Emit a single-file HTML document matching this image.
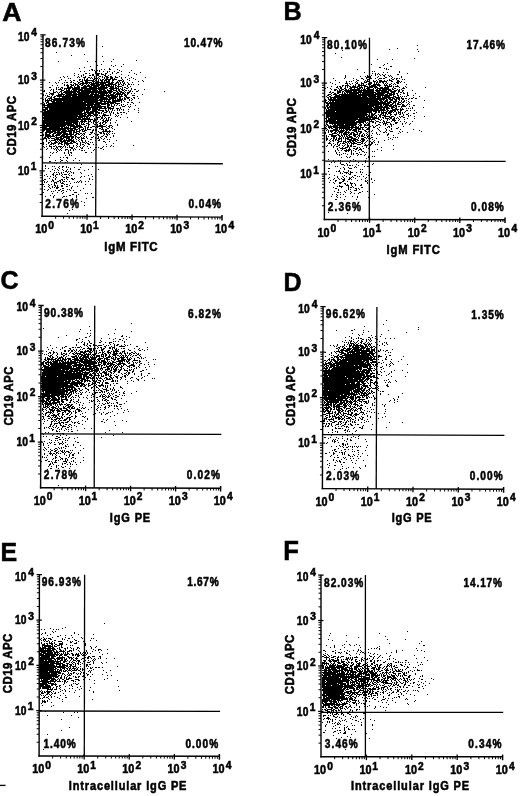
<!DOCTYPE html>
<html><head><meta charset="utf-8"><style>
html,body{margin:0;padding:0;background:#fff;}
svg{display:block;will-change:transform;}
text{font-family:"Liberation Sans",sans-serif;font-weight:bold;fill:#000;stroke:#000;stroke-width:0.55px;}
line{stroke:#000;}
</style></head><body>
<svg width="520" height="796" viewBox="0 0 520 796">
<rect width="520" height="796" fill="#fff"/>
<path d="M407 631.5h1m-78 2h1m48 0h1m-51 2h1m16 0h1m38 1h1m-28 1h1m-31 2h1m58 0h1m17 0h1m-74 1h1m13 1h1m74 0h1m-33 2h1m29 0h1m-76 1h1m4 0h1m6 0h1m-31 1h1m7 0h1m7 0h1m7 0h1m3 0h1m4 0h1m63 0h2m-91 1h1m44 0h1m-50 1h1m3 0h1m9 0h1m15 0h1m4 0h1m11 0h1m-7 1h1m2 0h1m1 0h1m2 0h1m36 0h1m-77 1h1m17 0h1m9 0h1m10 0h1m-57 1h2m10 0h1m11 0h1m5 0h1m4 0h1m1 0h1m35 0h1m5 0h1m14 0h1m3 0h1m-97 1h1m6 0h2m10 0h1m4 0h1m7 0h1m3 0h1m34 0h1m27 0h1m-90 1h1m2 0h2m1 0h1m4 0h1m13 0h1m1 0h2m4 0h1m22 0h1m4 0h1m-72 1h1m9 0h1m4 0h1m5 0h2m8 0h1m7 0h1m5 0h1m3 0h1m11 0h1m-64 1h1m3 0h1m21 0h1m9 0h1m5 0h1m7 0h1m3 0h1m-54 1h2m2 0h1m2 0h1m18 0h1m18 0h1m10 0h1m9 0h1m23 0h1m-93 1h2m2 0h1m2 0h1m3 0h3m2 0h1m2 0h3m12 0h1m13 0h2m2 0h1m4 0h1m9 0h1m-66 1h5m2 0h3m3 0h2m1 0h1m5 0h1m1 0h1m1 0h1m1 0h1m1 0h4m4 0h1m10 0h1m4 0h1m3 0h1m41 0h1m-99 1h1m2 0h1m5 0h1m1 0h1m8 0h3m1 0h1m1 0h1m8 0h1m2 0h1m2 0h1m1 0h1m3 0h1m3 0h1m11 0h1m3 0h1m22 0h1m-91 1h1m2 0h1m1 0h3m3 0h2m2 0h1m1 0h1m1 0h3m1 0h1m1 0h2m2 0h2m4 0h2m3 0h2m4 0h1m14 0h1m1 0h1m5 0h1m-73 1h3m2 0h3m1 0h7m2 0h1m5 0h1m3 0h1m3 0h1m3 0h1m1 0h1m1 0h1m6 0h2m2 0h1m2 0h2m1 0h1m24 0h2m20 0h1m-104 1h2m3 0h3m1 0h4m1 0h1m2 0h4m3 0h1m6 0h3m3 0h1m8 0h2m2 0h1m2 0h1m7 0h1m7 0h1m4 0h1m-77 1h3m1 0h1m3 0h1m3 0h1m2 0h3m1 0h3m2 0h1m1 0h2m1 0h2m3 0h1m2 0h1m5 0h1m1 0h1m5 0h2m8 0h2m10 0h2m1 0h1m1 0h1m1 0h1m2 0h1m2 0h1m8 0h1m3 0h1m-100 1h7m2 0h1m1 0h2m3 0h3m2 0h2m2 0h1m3 0h1m1 0h1m3 0h4m4 0h2m4 0h2m1 0h1m13 0h1m1 0h2m-70 1h1m1 0h1m1 0h1m1 0h1m1 0h1m1 0h2m1 0h1m1 0h1m4 0h5m1 0h1m3 0h2m2 0h1m1 0h2m3 0h3m1 0h1m3 0h2m3 0h2m2 0h2m5 0h1m1 0h1m1 0h1m8 0h2m3 0h1m3 0h1m10 0h1m1 0h1m-101 1h2m2 0h1m2 0h7m1 0h5m1 0h5m2 0h3m3 0h4m2 0h2m1 0h3m2 0h1m3 0h2m1 0h1m1 0h2m6 0h2m1 0h2m2 0h1m1 0h1m4 0h2m15 0h1m-97 1h2m1 0h1m1 0h1m1 0h6m1 0h9m2 0h1m2 0h2m2 0h8m2 0h1m2 0h3m1 0h1m3 0h1m1 0h1m1 0h1m4 0h1m1 0h2m1 0h1m1 0h1m1 0h2m9 0h1m2 0h1m-86 1h2m1 0h19m1 0h5m1 0h1m2 0h4m4 0h1m1 0h1m2 0h1m4 0h4m2 0h3m2 0h1m2 0h1m4 0h1m3 0h3m9 0h2m4 0h1m1 0h1m-94 1h2m1 0h5m1 0h5m1 0h3m1 0h6m2 0h4m1 0h3m1 0h1m1 0h1m1 0h2m1 0h4m2 0h4m1 0h1m1 0h2m2 0h1m2 0h1m1 0h1m4 0h1m1 0h1m11 0h1m-83 1h3m1 0h9m2 0h1m1 0h7m1 0h1m1 0h2m1 0h3m1 0h2m1 0h1m2 0h2m1 0h2m4 0h2m1 0h4m4 0h1m1 0h2m2 0h1m1 0h1m2 0h1m2 0h1m1 0h1m1 0h1m2 0h1m11 0h1m-96 1h9m1 0h11m1 0h9m3 0h2m1 0h2m1 0h1m1 0h2m1 0h3m1 0h2m1 0h1m3 0h1m2 0h2m2 0h4m3 0h1m2 0h2m1 0h2m2 0h1m7 0h1m3 0h1m2 0h3m1 0h1m-98 1h3m1 0h4m1 0h7m1 0h3m1 0h1m1 0h2m1 0h6m1 0h6m1 0h9m1 0h1m2 0h1m1 0h2m5 0h1m3 0h1m2 0h2m1 0h6m6 0h1m3 0h1m-91 1h16m1 0h1m1 0h4m2 0h2m1 0h7m2 0h3m1 0h2m1 0h2m1 0h5m1 0h2m5 0h2m1 0h3m1 0h2m1 0h2m8 0h1m1 0h1m1 0h1m1 0h1m-86 1h13m1 0h8m1 0h2m1 0h2m1 0h2m1 0h1m2 0h9m1 0h1m1 0h7m3 0h1m1 0h1m1 0h1m1 0h1m1 0h1m4 0h3m2 0h3m2 0h2m1 0h1m8 0h1m-94 1h1m1 0h32m1 0h5m1 0h1m1 0h5m1 0h5m1 0h1m1 0h1m1 0h1m1 0h1m2 0h1m2 0h1m1 0h1m3 0h1m2 0h1m4 0h2m10 0h1m-94 1h9m1 0h13m1 0h1m1 0h1m1 0h4m1 0h5m1 0h1m3 0h5m1 0h9m1 0h1m1 0h3m1 0h1m3 0h4m1 0h1m1 0h1m1 0h1m1 0h1m1 0h3m2 0h2m11 0h1m-100 1h4m1 0h38m3 0h1m1 0h3m1 0h3m3 0h1m1 0h2m2 0h4m1 0h3m2 0h1m2 0h1m1 0h1m5 0h2m10 0h1m1 0h1m-101 1h17m1 0h19m2 0h1m1 0h7m1 0h2m1 0h3m1 0h2m2 0h1m2 0h1m1 0h5m1 0h3m7 0h1m4 0h2m-88 1h19m1 0h5m1 0h2m1 0h3m1 0h2m1 0h7m1 0h4m2 0h3m2 0h2m4 0h3m1 0h2m2 0h6m3 0h1m2 0h2m1 0h2m6 0h1m4 0h1m11 0h1m-110 1h19m1 0h7m1 0h2m2 0h3m1 0h7m1 0h9m2 0h3m1 0h2m1 0h1m2 0h1m2 0h1m1 0h2m1 0h1m1 0h1m1 0h1m1 0h1m2 0h1m2 0h1m1 0h1m1 0h1m1 0h1m7 0h2m10 0h1m-112 1h3m1 0h24m1 0h2m2 0h4m1 0h5m2 0h2m2 0h1m1 0h7m1 0h1m1 0h6m2 0h1m2 0h2m2 0h1m4 0h3m1 0h1m2 0h1m-89 1h4m1 0h22m1 0h1m1 0h5m1 0h8m1 0h2m2 0h1m1 0h1m2 0h2m1 0h2m1 0h2m1 0h2m4 0h1m4 0h1m2 0h1m5 0h2m1 0h1m9 0h1m6 0h1m-104 1h3m1 0h17m3 0h3m1 0h5m1 0h2m1 0h1m1 0h1m1 0h5m2 0h1m1 0h1m1 0h2m1 0h2m2 0h7m4 0h1m1 0h1m1 0h2m2 0h1m2 0h1m1 0h1m1 0h1m5 0h2m6 0h1m-100 1h15m1 0h8m1 0h2m1 0h1m1 0h1m1 0h1m1 0h4m1 0h5m1 0h1m1 0h1m2 0h2m2 0h1m6 0h1m1 0h7m2 0h1m1 0h1m4 0h2m2 0h1m4 0h1m2 0h1m9 0h1m5 0h1m-108 1h17m1 0h6m1 0h2m2 0h5m2 0h2m1 0h3m1 0h6m2 0h3m1 0h1m1 0h1m4 0h1m6 0h1m1 0h1m1 0h2m1 0h1m5 0h2m11 0h1m1 0h1m-98 1h3m1 0h5m1 0h11m1 0h11m1 0h11m1 0h2m1 0h2m3 0h1m3 0h1m1 0h2m4 0h1m1 0h1m2 0h2m2 0h2m5 0h1m3 0h2m8 0h1m6 0h1m-104 1h31m1 0h2m1 0h7m1 0h4m1 0h1m3 0h1m1 0h1m1 0h1m5 0h3m2 0h1m2 0h1m6 0h2m2 0h1m8 0h1m9 0h1m-101 1h21m1 0h10m2 0h5m1 0h2m9 0h1m2 0h3m2 0h4m2 0h1m7 0h1m1 0h1m2 0h1m2 0h1m2 0h2m10 0h2m-97 1h19m1 0h3m1 0h1m1 0h6m1 0h2m1 0h1m1 0h6m1 0h3m1 0h4m2 0h2m1 0h1m1 0h1m3 0h1m2 0h2m31 0h1m-102 1h23m1 0h3m4 0h2m1 0h3m1 0h1m2 0h1m3 0h1m1 0h7m1 0h2m2 0h1m1 0h1m1 0h1m2 0h1m1 0h1m4 0h1m1 0h1m1 0h1m1 0h1m-80 1h22m1 0h1m4 0h2m1 0h3m3 0h5m1 0h1m1 0h2m1 0h1m1 0h1m9 0h1m3 0h1m4 0h1m5 0h2m6 0h1m2 0h1m4 0h1m1 0h1m1 0h1m-95 1h21m2 0h6m2 0h1m3 0h2m3 0h5m1 0h2m1 0h2m3 0h2m4 0h1m1 0h1m7 0h1m3 0h2m4 0h2m2 0h1m10 0h1m-96 1h20m1 0h5m1 0h9m1 0h1m1 0h6m1 0h2m1 0h1m2 0h2m3 0h1m1 0h2m5 0h1m2 0h2m2 0h1m3 0h1m-78 1h22m2 0h4m1 0h3m1 0h2m4 0h1m1 0h2m2 0h2m1 0h3m1 0h3m5 0h1m3 0h1m3 0h1m9 0h1m4 0h1m-85 1h3m1 0h19m4 0h1m1 0h2m1 0h2m1 0h5m1 0h2m1 0h1m1 0h1m1 0h2m5 0h1m2 0h1m8 0h1m8 0h1m2 0h1m8 0h1m16 0h1m-106 1h18m1 0h3m1 0h4m1 0h2m4 0h1m2 0h1m3 0h2m1 0h1m4 0h1m1 0h3m1 0h1m10 0h2m13 0h1m10 0h1m-92 1h4m1 0h17m4 0h2m1 0h2m2 0h1m1 0h1m9 0h2m1 0h1m11 0h1m14 0h2m-77 1h2m1 0h19m1 0h1m1 0h1m1 0h2m2 0h2m6 0h1m3 0h1m6 0h1m3 0h1m5 0h1m10 0h1m1 0h1m2 0h1m-77 1h25m1 0h4m2 0h1m8 0h2m1 0h1m1 0h1m2 0h1m12 0h1m2 0h1m3 0h1m13 0h1m-85 1h8m1 0h9m1 0h7m1 0h4m1 0h1m10 0h1m8 0h2m6 0h3m20 0h1m1 0h1m-86 1h10m1 0h3m1 0h6m4 0h1m1 0h1m2 0h5m1 0h1m4 0h1m2 0h1m14 0h1m5 0h1m4 0h1m22 0h1m-94 1h6m1 0h8m1 0h1m1 0h1m5 0h3m1 0h1m4 0h1m2 0h1m7 0h1m2 0h1m8 0h1m35 0h1m-93 1h1m1 0h3m3 0h2m1 0h4m1 0h1m2 0h1m2 0h1m1 0h1m2 0h1m2 0h4m3 0h1m22 0h1m3 0h1m8 0h1m-74 1h2m1 0h10m1 0h2m1 0h1m2 0h6m5 0h2m1 0h1m1 0h1m2 0h1m1 0h2m42 0h1m-85 1h23m3 0h1m6 0h1m7 0h1m23 0h1m19 0h1m-86 1h7m1 0h2m1 0h1m1 0h4m2 0h2m6 0h1m5 0h1m12 0h1m-48 1h2m1 0h1m2 0h2m3 0h3m2 0h1m1 0h3m2 0h2m2 0h2m8 0h1m4 0h1m2 0h1m7 0h1m4 0h1m-59 1h2m1 0h1m2 0h5m1 0h4m1 0h2m1 0h1m3 0h1m1 0h1m2 0h1m2 0h1m4 0h1m5 0h1m9 0h1m7 0h1m2 0h1m-61 1h1m4 0h2m2 0h3m2 0h3m1 0h1m2 0h1m26 0h1m-53 1h1m1 0h2m1 0h5m1 0h2m3 0h1m1 0h1m4 0h1m4 0h1m5 0h2m1 0h1m-35 1h3m3 0h3m1 0h2m1 0h2m1 0h1m8 0h1m1 0h1m3 0h1m28 0h1m-59 1h3m1 0h1m1 0h1m2 0h1m4 0h1m7 0h1m2 0h1m12 0h1m-44 1h2m1 0h1m1 0h1m1 0h2m1 0h5m3 0h1m1 0h1m-16 1h1m2 0h1m1 0h1m3 0h2m3 0h2m4 0h2m14 0h2m-33 1h1m1 0h3m1 0h1m2 0h1m1 0h1m5 0h2m-28 1h3m2 0h1m1 0h1m2 0h1m9 0h1m12 0h1m-34 1h1m9 0h2m2 0h1m7 0h1m5 0h1m3 0h1m1 0h1m-31 1h2m6 0h2m2 0h1m13 0h1m1 0h1m-32 1h1m1 0h4m11 0h1m8 0h1m12 0h1m-41 1h1m4 0h1m1 0h1m1 0h1m2 0h1m9 0h1m6 0h1m7 0h1m9 0h1m-39 1h1m6 0h1m2 0h1m1 0h1m10 0h2m17 0h1m-48 1h1m1 0h1m2 0h1m7 0h1m5 0h1m11 0h1m-37 1h1m4 0h1m1 0h1m5 0h1m2 0h1m22 0h1m-30 1h1m1 0h1m2 0h1m1 0h1m11 0h1m-26 1h1m10 0h2m1 0h1m20 0h1m3 0h1m6 0h1m-48 1h1m9 0h1m8 0h1m7 0h1m1 0h1m6 0h1m10 0h1m-48 1h1m7 0h1m13 0h1m-9 1h1m4 0h1m1 0h1m-15 1h1m2 0h1m8 0h1m3 0h1m-5 1h1m3 0h2m2 0h1m1 0h1m17 0h1m-48 1h1m11 0h1m1 0h2m3 0h1m-11 1h2m9 0h1m9 0h1m-33 1h2m8 0h1m6 0h1m3 0h2m-8 1h1m4 0h3m20 0h1m-16 1h1m13 0h1m-33 1h1m13 1h1m-7 1h1m8 0h1m-15 1h1m32 0h1m-25 11h1" stroke="#000" stroke-width="1" fill="none" shape-rendering="crispEdges"/>
<path d="M104 623.5h1m-40 4h1m-16 1h1m11 0h1m-22 1h1m2 0h1m8 0h1m2 0h1m1 0h1m-7 2h1m2 0h1m-11 1h1m7 0h1m20 0h1m-33 1h1m2 0h1m28 0h1m-34 1h1m8 0h1m27 0h1m14 0h1m-47 1h1m12 0h1m4 0h1m5 0h1m-15 1h2m-16 1h1m8 0h1m12 0h1m6 0h1m8 0h1m-41 1h1m2 0h1m1 0h1m1 0h3m11 0h1m5 0h2m12 0h1m8 0h1m1 0h1m-54 1h1m2 0h3m4 0h2m10 0h1m1 0h1m9 0h1m-34 1h1m1 0h1m1 0h1m2 0h1m5 0h2m11 0h1m7 0h2m13 0h1m5 0h1m-53 1h1m1 0h2m1 0h1m2 0h1m5 0h4m8 0h1m1 0h1m5 0h1m4 0h1m-43 1h1m7 0h1m1 0h1m2 0h1m7 0h1m7 0h2m4 0h1m-36 1h1m2 0h1m1 0h2m1 0h4m1 0h1m4 0h4m11 0h3m8 0h1m-44 1h3m2 0h1m3 0h2m2 0h2m2 0h4m3 0h1m18 0h1m-44 1h9m1 0h1m1 0h1m2 0h3m1 0h1m8 0h1m1 0h1m12 0h1m-44 1h1m1 0h9m1 0h3m4 0h1m22 0h1m5 0h1m5 0h1m-57 1h1m1 0h4m2 0h3m1 0h2m5 0h1m1 0h2m4 0h1m2 0h1m6 0h2m5 0h1m6 0h1m3 0h1m-56 1h15m2 0h1m1 0h1m4 0h2m1 0h1m3 0h1m1 0h1m3 0h1m1 0h1m11 0h1m-52 1h4m1 0h1m1 0h4m1 0h4m3 0h2m4 0h1m7 0h1m2 0h1m16 0h1m4 0h3m6 0h1m-68 1h14m2 0h1m3 0h2m1 0h1m1 0h1m3 0h3m1 0h1m4 0h1m7 0h1m8 0h1m2 0h1m2 0h1m-62 1h12m1 0h2m1 0h2m1 0h6m2 0h3m1 0h1m7 0h1m6 0h1m5 0h1m-52 1h5m1 0h6m1 0h5m4 0h1m1 0h1m1 0h1m12 0h1m2 0h1m1 0h1m1 0h1m11 0h1m-60 1h2m1 0h10m1 0h2m1 0h1m1 0h1m1 0h1m1 0h1m1 0h1m1 0h2m2 0h2m3 0h1m1 0h1m1 0h1m1 0h1m2 0h1m1 0h1m2 0h1m16 0h1m-68 1h4m1 0h14m1 0h3m1 0h4m1 0h1m2 0h2m1 0h4m2 0h1m1 0h1m2 0h1m15 0h1m-63 1h15m1 0h2m1 0h3m2 0h3m5 0h2m1 0h1m1 0h3m2 0h2m1 0h1m-45 1h9m1 0h5m3 0h1m2 0h1m4 0h2m8 0h2m5 0h1m3 0h2m2 0h3m4 0h2m-61 1h10m1 0h3m3 0h8m3 0h4m1 0h1m2 0h1m8 0h1m1 0h2m1 0h1m9 0h1m-61 1h15m1 0h7m1 0h1m1 0h1m2 0h1m1 0h2m2 0h3m4 0h3m2 0h2m2 0h1m2 0h1m3 0h1m1 0h1m5 0h1m7 0h1m-75 1h12m2 0h2m1 0h3m1 0h2m1 0h3m4 0h1m1 0h1m2 0h1m4 0h1m11 0h1m1 0h1m-56 1h4m1 0h2m1 0h6m1 0h1m1 0h1m2 0h3m1 0h2m1 0h1m2 0h1m2 0h3m1 0h3m4 0h2m2 0h1m3 0h1m1 0h1m-55 1h21m2 0h4m2 0h1m2 0h1m3 0h1m1 0h2m3 0h2m5 0h1m2 0h1m-54 1h15m1 0h3m1 0h1m2 0h2m4 0h1m1 0h1m1 0h2m3 0h1m1 0h1m3 0h1m2 0h3m3 0h1m7 0h1m4 0h1m-67 1h9m1 0h13m3 0h3m3 0h1m2 0h1m1 0h2m3 0h1m10 0h1m8 0h1m-63 1h14m2 0h5m1 0h3m2 0h1m1 0h3m1 0h1m1 0h1m2 0h1m1 0h1m5 0h2m1 0h2m-51 1h15m1 0h1m2 0h2m1 0h6m2 0h2m3 0h1m10 0h2m-48 1h25m1 0h2m1 0h2m1 0h4m4 0h1m3 0h1m1 0h1m1 0h1m28 0h1m-78 1h16m1 0h9m2 0h1m1 0h1m2 0h1m2 0h1m1 0h1m11 0h1m1 0h1m2 0h2m1 0h2m2 0h1m-63 1h14m1 0h2m3 0h1m1 0h3m1 0h2m1 0h2m1 0h4m1 0h1m2 0h1m1 0h1m4 0h1m2 0h2m-52 1h16m1 0h2m1 0h2m2 0h1m2 0h1m1 0h1m1 0h1m2 0h1m1 0h2m2 0h1m1 0h2m9 0h1m-54 1h14m1 0h1m1 0h1m1 0h3m1 0h1m1 0h2m1 0h3m1 0h5m1 0h2m2 0h1m6 0h1m1 0h1m11 0h1m6 0h1m-71 1h8m1 0h11m1 0h1m1 0h3m1 0h1m3 0h1m8 0h1m7 0h1m1 0h1m-51 1h21m7 0h1m4 0h2m6 0h1m1 0h1m6 0h1m15 0h1m-67 1h10m1 0h6m1 0h3m1 0h2m4 0h1m1 0h2m1 0h1m2 0h1m1 0h1m1 0h1m2 0h1m2 0h1m-47 1h18m4 0h1m1 0h1m2 0h1m1 0h1m1 0h1m5 0h1m2 0h1m6 0h2m3 0h1m9 0h1m-63 1h17m1 0h2m1 0h1m3 0h1m2 0h3m12 0h1m3 0h1m19 0h1m3 0h1m-72 1h19m2 0h1m2 0h1m2 0h1m5 0h1m1 0h1m2 0h2m2 0h3m5 0h1m-51 1h12m1 0h1m1 0h3m2 0h2m2 0h1m1 0h1m2 0h1m5 0h2m1 0h1m6 0h1m-46 1h15m3 0h1m1 0h2m2 0h1m1 0h1m1 0h4m12 0h1m22 0h1m-67 1h1m1 0h7m1 0h5m1 0h1m1 0h1m2 0h2m2 0h3m6 0h4m4 0h1m5 0h1m14 0h1m-64 1h7m2 0h4m1 0h2m2 0h1m4 0h2m5 0h3m4 0h2m14 0h1m22 0h1m-78 1h16m1 0h4m1 0h1m1 0h2m1 0h1m5 0h1m1 0h1m-34 1h7m1 0h1m3 0h1m9 0h1m1 0h1m-27 1h7m1 0h6m1 0h1m8 0h1m8 0h1m1 0h1m2 0h1m15 0h1m-55 1h8m3 0h6m6 0h1m7 0h1m4 0h2m-38 1h4m1 0h5m1 0h2m2 0h1m3 0h2m8 0h1m1 0h1m-32 1h11m5 0h2m1 0h1m5 0h1m6 0h1m7 0h1m37 0h1m-79 1h1m1 0h9m2 0h1m2 0h1m3 0h1m16 0h1m12 0h1m-51 1h1m1 0h7m1 0h1m1 0h1m3 0h1m2 0h1m9 0h1m2 0h1m8 0h1m-35 1h6m1 0h3m3 0h1m3 0h1m14 0h1m-39 1h1m5 0h1m3 0h1m10 0h1m2 0h1m9 0h1m13 0h1m29 0h1m-80 1h1m1 0h1m1 0h1m1 0h5m2 0h1m6 0h1m4 0h1m3 0h1m23 0h1m-53 1h2m1 0h2m1 0h3m1 0h1m3 0h1m2 0h1m15 0h1m18 0h1m-53 1h3m3 0h2m3 0h1m1 0h2m7 0h1m-24 1h1m5 0h2m1 0h1m1 0h1m-11 1h1m1 0h1m1 0h1m4 0h1m9 0h1m4 0h1m-22 1h1m3 0h1m2 0h1m2 0h1m24 0h1m-37 1h2m1 0h2m3 0h1m5 0h1m7 0h2m-27 1h1m1 0h1m5 0h1m10 0h1m-11 1h1m12 0h1m29 0h1m-51 1h1m1 0h1m2 0h1m-6 1h4m1 0h1m14 0h1m-21 1h1m1 0h2m5 0h1m-11 1h1m0 2h1m10 0h1m-3 1h1m-7 5h1m17 1h1m10 0h1m2 0h1m-31 3h1m23 0h1m6 2h1m-18 2h1m7 8h1m-9 3h1m-15 4h1m-5 15h1" stroke="#000" stroke-width="1" fill="none" shape-rendering="crispEdges"/>
<path d="M386 320.5h1m-4 4h1m-20 2h1m53 1h1m-65 2h1m63 0h1m-83 1h1m14 0h2m10 0h1m24 0h1m-21 1h1m-6 1h1m42 0h1m-55 1h1m5 1h1m3 0h1m18 0h1m-23 1h1m11 0h1m-23 1h1m25 0h1m4 0h1m-36 1h1m5 0h1m6 0h1m9 0h2m2 0h1m-22 1h1m4 0h1m1 0h1m1 0h2m8 0h1m4 0h1m9 0h1m4 0h1m3 0h1m-42 1h1m8 0h2m2 0h1m1 0h1m1 0h1m5 0h2m-33 1h1m3 0h1m1 0h1m6 0h1m2 0h1m4 0h1m2 0h1m1 0h1m-30 1h1m7 0h2m1 0h1m3 0h1m3 0h2m3 0h1m3 0h1m8 0h1m-36 1h1m1 0h1m1 0h1m1 0h1m3 0h1m1 0h1m3 0h2m3 0h1m2 0h1m6 0h1m8 0h1m1 0h1m-39 1h1m1 0h4m1 0h1m2 0h1m2 0h1m1 0h2m2 0h1m1 0h1m1 0h1m10 0h1m3 0h1m-50 1h1m6 0h1m2 0h1m1 0h1m1 0h1m1 0h2m1 0h2m2 0h1m3 0h3m1 0h3m6 0h1m4 0h1m4 0h1m-58 1h1m2 0h1m3 0h1m6 0h1m4 0h3m1 0h10m2 0h2m1 0h1m1 0h1m8 0h1m4 0h1m-51 1h1m1 0h1m3 0h1m1 0h2m2 0h1m2 0h2m1 0h2m1 0h4m1 0h4m1 0h3m1 0h1m1 0h1m1 0h2m-37 1h2m2 0h1m1 0h1m4 0h1m2 0h8m1 0h5m1 0h1m2 0h3m2 0h2m-41 1h2m1 0h1m3 0h3m1 0h5m1 0h6m1 0h5m1 0h4m1 0h1m2 0h1m1 0h1m-39 1h1m2 0h3m2 0h5m1 0h10m1 0h1m2 0h4m1 0h4m5 0h1m11 0h1m-55 1h1m1 0h10m1 0h2m1 0h16m1 0h4m3 0h1m1 0h1m2 0h1m2 0h2m-54 1h1m1 0h4m1 0h2m2 0h3m1 0h11m1 0h12m1 0h1m1 0h1m1 0h2m5 0h1m-61 1h1m5 0h1m3 0h1m3 0h5m3 0h8m1 0h11m2 0h4m2 0h1m12 0h1m1 0h1m-60 1h1m4 0h1m4 0h5m1 0h2m1 0h1m1 0h23m1 0h1m-48 1h1m8 0h1m1 0h2m2 0h16m1 0h9m1 0h3m11 0h1m-55 1h1m1 0h1m3 0h2m3 0h29m1 0h2m2 0h1m1 0h2m9 0h2m-66 1h1m8 0h4m1 0h4m2 0h24m1 0h2m1 0h3m2 0h4m4 0h1m16 0h1m-73 1h2m1 0h1m1 0h3m1 0h33m1 0h1m3 0h1m7 0h1m-58 1h1m3 0h1m3 0h2m2 0h1m1 0h1m1 0h27m1 0h2m1 0h1m8 0h1m-58 1h2m1 0h4m2 0h4m1 0h35m1 0h1m6 0h2m4 0h1m9 0h1m-78 1h2m1 0h1m1 0h1m1 0h1m1 0h3m1 0h2m1 0h22m1 0h6m1 0h3m9 0h1m-60 1h1m2 0h1m3 0h2m2 0h4m1 0h8m1 0h17m1 0h3m3 0h4m14 0h1m7 0h1m-74 1h1m2 0h3m1 0h1m2 0h29m1 0h4m1 0h6m2 0h2m3 0h1m7 0h1m-69 1h1m1 0h7m1 0h33m1 0h3m1 0h1m5 0h1m3 0h1m8 0h1m1 0h1m-70 1h4m2 0h6m1 0h35m1 0h2m1 0h1m1 0h1m8 0h1m2 0h1m3 0h1m13 0h1m-84 1h1m1 0h3m1 0h9m1 0h14m1 0h3m1 0h12m2 0h1m1 0h1m10 0h1m3 0h1m-68 1h1m1 0h2m1 0h1m1 0h5m1 0h32m1 0h3m2 0h1m2 0h1m4 0h1m6 0h1m-66 1h1m1 0h2m1 0h3m1 0h29m1 0h5m1 0h2m9 0h2m-59 1h5m1 0h1m2 0h30m5 0h6m1 0h1m8 0h1m-59 1h2m1 0h2m1 0h27m1 0h3m1 0h4m1 0h3m4 0h1m5 0h1m-59 1h33m1 0h2m1 0h1m1 0h10m1 0h2m19 0h1m7 0h1m-80 1h42m1 0h4m1 0h1m5 0h1m2 0h1m3 0h1m6 0h1m-68 1h36m1 0h9m2 0h1m4 0h1m3 0h1m9 0h1m15 0h1m-84 1h40m1 0h4m1 0h5m2 0h1m11 0h1m-67 1h4m1 0h37m1 0h2m2 0h2m6 0h2m8 0h1m-66 1h42m1 0h5m2 0h2m6 0h1m4 0h1m-63 1h4m1 0h16m1 0h16m1 0h12m16 0h1m13 0h1m-83 1h43m1 0h2m1 0h2m1 0h3m1 0h1m-55 1h24m1 0h5m1 0h7m1 0h3m1 0h4m7 0h2m-56 1h41m1 0h4m1 0h2m16 0h1m-66 1h35m1 0h4m1 0h2m1 0h1m2 0h3m11 0h1m1 0h1m8 0h1m-73 1h42m1 0h1m3 0h1m4 0h2m12 0h1m6 0h1m-74 1h32m2 0h3m1 0h3m3 0h1m2 0h3m1 0h2m1 0h1m7 0h1m2 0h1m1 0h1m-67 1h26m1 0h4m1 0h4m2 0h4m2 0h1m1 0h1m2 0h2m2 0h1m-54 1h21m1 0h16m1 0h2m5 0h1m3 0h1m1 0h1m10 0h1m-65 1h37m2 0h6m1 0h2m4 0h3m8 0h2m-64 1h36m1 0h1m1 0h5m2 0h1m7 0h1m8 0h2m-66 1h37m1 0h2m2 0h1m1 0h2m2 0h1m3 0h1m1 0h1m-55 1h33m1 0h6m1 0h2m3 0h2m1 0h5m1 0h1m-55 1h30m1 0h7m1 0h2m3 0h2m7 0h1m-55 1h5m1 0h23m1 0h7m1 0h4m1 0h2m1 0h1m1 0h1m6 0h1m-56 1h27m1 0h1m1 0h8m1 0h2m2 0h1m1 0h1m2 0h2m7 0h1m1 0h2m-61 1h27m1 0h2m1 0h5m1 0h3m1 0h2m1 0h1m1 0h1m1 0h1m1 0h2m-52 1h32m1 0h1m1 0h2m1 0h6m1 0h3m1 0h1m7 0h1m21 0h1m-80 1h20m1 0h14m1 0h1m1 0h1m1 0h2m1 0h3m7 0h1m3 0h1m7 0h1m-66 1h17m1 0h6m1 0h2m1 0h1m1 0h3m4 0h8m5 0h1m-50 1h3m1 0h21m1 0h4m1 0h1m1 0h3m2 0h1m1 0h1m1 0h1m1 0h1m4 0h1m24 0h1m-76 1h23m1 0h7m1 0h6m1 0h2m2 0h2m1 0h1m1 0h1m2 0h1m23 0h1m-76 1h13m1 0h11m2 0h4m1 0h2m2 0h1m6 0h2m6 0h2m17 0h1m-70 1h19m2 0h2m2 0h1m1 0h3m1 0h1m2 0h7m9 0h1m19 0h1m2 0h1m-75 1h1m1 0h3m1 0h19m2 0h1m1 0h1m1 0h2m1 0h3m2 0h1m5 0h1m21 0h1m3 0h1m-71 1h1m1 0h13m1 0h2m1 0h2m1 0h6m1 0h4m2 0h3m1 0h4m1 0h1m7 0h1m12 0h1m7 0h1m-74 1h2m1 0h12m1 0h5m1 0h2m1 0h4m2 0h1m1 0h1m3 0h1m3 0h2m1 0h1m5 0h1m19 0h1m-71 1h1m1 0h3m1 0h2m1 0h1m1 0h2m2 0h4m1 0h3m1 0h1m1 0h2m2 0h2m3 0h1m4 0h1m1 0h2m4 0h1m-50 1h1m1 0h7m1 0h3m1 0h5m1 0h3m1 0h1m1 0h1m1 0h1m1 0h5m3 0h1m10 0h1m9 0h1m2 0h1m-63 1h6m1 0h2m1 0h2m1 0h4m3 0h4m1 0h1m1 0h1m4 0h1m1 0h2m1 0h3m9 0h1m1 0h1m9 0h1m-59 1h1m1 0h2m1 0h1m1 0h10m1 0h3m2 0h2m1 0h1m1 0h1m2 0h1m1 0h1m5 0h1m18 0h1m-61 1h7m2 0h2m1 0h4m3 0h3m4 0h1m2 0h3m4 0h2m8 0h1m-48 1h1m1 0h4m1 0h2m2 0h1m1 0h1m1 0h4m2 0h1m1 0h4m1 0h2m3 0h1m1 0h4m5 0h1m-45 1h2m1 0h2m2 0h2m1 0h2m1 0h4m1 0h2m3 0h1m3 0h2m1 0h1m1 0h1m1 0h1m2 0h1m1 0h1m8 0h1m1 0h1m11 0h1m-63 1h1m1 0h4m1 0h1m6 0h4m1 0h2m1 0h1m2 0h3m1 0h1m1 0h3m3 0h1m3 0h1m-42 1h3m1 0h4m1 0h1m2 0h1m2 0h2m1 0h2m2 0h1m1 0h2m1 0h1m3 0h1m2 0h1m3 0h1m5 0h1m1 0h1m6 0h1m8 0h1m-62 1h1m3 0h2m2 0h1m1 0h2m2 0h3m2 0h1m4 0h1m2 0h2m7 0h4m7 0h1m2 0h1m-49 1h7m2 0h1m1 0h2m1 0h1m2 0h4m1 0h1m2 0h2m2 0h2m2 0h1m3 0h1m2 0h1m11 0h1m5 0h1m-62 1h3m3 0h1m4 0h1m1 0h3m2 0h1m1 0h1m3 0h5m2 0h5m3 0h1m1 0h1m-39 1h2m1 0h1m2 0h1m1 0h1m1 0h1m2 0h1m2 0h2m1 0h1m4 0h2m1 0h1m1 0h2m10 0h1m-43 1h1m3 0h2m1 0h4m2 0h1m1 0h2m2 0h1m1 0h2m4 0h1m1 0h1m6 0h1m5 0h1m2 0h1m14 0h1m-60 1h2m1 0h1m2 0h1m2 0h5m1 0h1m2 0h1m3 0h3m4 0h1m3 0h1m2 0h2m6 0h1m11 0h1m-59 1h3m4 0h1m1 0h1m1 0h2m1 0h3m1 0h2m2 0h4m1 0h1m3 0h1m4 0h1m1 0h1m15 0h1m-55 1h1m1 0h1m1 0h6m4 0h2m1 0h2m1 0h1m5 0h1m1 0h2m4 0h1m2 0h2m4 0h1m-45 1h2m4 0h1m3 0h1m10 0h1m2 0h1m2 0h1m4 0h1m2 0h1m5 0h1m-42 1h2m2 0h1m2 0h2m2 0h3m2 0h3m4 0h1m1 0h1m1 0h1m1 0h1m1 0h1m11 0h1m1 0h1m-37 1h3m3 0h1m1 0h1m2 0h1m1 0h2m5 0h1m1 0h2m5 0h1m2 0h1m24 0h1m12 0h1m-80 1h2m1 0h1m1 0h2m1 0h1m6 0h1m2 0h1m3 0h1m4 0h1m-25 1h1m2 0h1m1 0h1m4 0h3m1 0h1m3 0h2m2 0h1m1 0h2m3 0h1m1 0h2m13 0h1m-48 1h1m2 0h1m2 0h1m3 0h1m6 0h2m7 0h2m10 0h1m-41 1h1m1 0h1m1 0h2m3 0h1m5 0h1m2 0h1m2 0h1m1 0h2m14 0h1m-28 1h1m10 0h1m1 0h1m5 0h1m4 0h2m1 0h1m23 0h1m-52 1h2m1 0h3m1 0h1m10 0h1m7 0h2m-31 1h1m12 0h1m2 0h1m22 0h1m-40 1h1m11 0h2m1 0h1m8 0h1m-22 1h1m1 0h1m9 0h1m1 0h1m5 0h1m-28 1h1m3 0h1m4 0h1m7 0h1m6 1h1m-27 1h1m4 0h1m2 0h1m3 0h1m11 0h1m-20 1h1m15 0h1m11 0h1m-18 1h1m10 0h1m4 0h1m-35 1h2m4 0h1m5 0h1m14 0h1m3 0h1m-28 1h1m9 0h1m3 0h1m4 0h1m10 0h1m-26 1h1m1 0h1m11 0h1m2 0h1m14 0h1m-34 1h1m1 0h1m2 0h1m6 0h1m5 0h2m-20 1h1m1 0h2m10 0h1m19 0h1m-40 1h1m6 0h1m3 0h1m-13 1h1m15 0h2m3 0h1m7 0h1m-14 1h2m1 0h1m1 0h1m-9 1h1m3 0h1m1 0h1m21 0h1m-37 1h1m4 0h1m3 0h1m1 0h1m5 0h1m1 0h1m1 0h1m1 0h1m1 0h1m1 0h1m1 0h1m-18 1h1m2 0h2m4 0h1m4 0h1m8 0h1m-29 1h1m-5 1h2m8 0h2m2 0h1m3 0h1m-21 1h1m1 0h1m6 0h1m15 0h2m6 0h1m-31 1h2m8 0h1m6 0h1m1 0h1m-26 1h1m3 0h1m5 0h1m1 0h2m1 0h1m13 0h1m-34 1h2m6 0h2m7 0h1m1 0h1m17 0h1m-30 1h1m8 0h1m1 0h1m3 0h1m4 0h1m4 0h1m-28 1h1m5 0h1m10 0h2m4 0h1m12 0h1m-38 1h1m19 0h1m1 0h1m4 0h1m2 0h1m-27 1h1m2 0h2m4 0h1m1 0h1m-2 1h1m5 0h1m2 0h1m4 0h1m-26 1h1m7 0h1m4 0h1m-20 1h1m5 0h1m2 0h1m2 0h1m11 0h1m4 0h1m6 0h1m-27 1h1m1 0h2m-6 1h1m4 0h1m2 0h2m7 0h1m-24 1h1m25 0h1m-29 1h1m13 0h1m-13 1h1m4 0h2m29 0h1m-24 1h1m22 0h1m-38 1h1m19 0h1m4 0h1m5 0h1m-18 1h1m3 0h1m13 0h1m-27 1h1m5 0h1" stroke="#000" stroke-width="1" fill="none" shape-rendering="crispEdges"/>
<path d="M131 323.5h1m-43 3h1m-47 2h1m36 1h1m34 0h1m-26 1h1m-12 1h1m51 0h1m-45 2h1m2 0h1m23 0h1m-7 1h1m-43 1h1m23 0h1m31 0h1m-34 1h1m31 0h2m3 0h1m-69 1h1m26 0h2m42 0h1m-51 1h1m21 0h1m7 0h1m5 0h1m7 0h1m-48 1h2m4 0h1m30 0h1m5 0h2m5 0h1m-51 1h1m11 0h1m11 0h1m21 0h1m-41 1h1m6 0h1m4 0h1m6 0h1m11 0h1m1 0h1m2 0h1m5 0h1m-47 1h1m2 0h1m2 0h1m4 0h1m4 0h1m4 0h2m4 0h1m3 0h3m12 0h1m20 0h1m-62 1h1m2 0h1m2 0h2m2 0h1m14 0h1m3 0h1m-38 1h1m6 0h2m2 0h1m5 0h1m9 0h1m6 0h1m3 0h1m2 0h2m5 0h1m5 0h1m-81 1h1m25 0h1m7 0h1m1 0h1m2 0h2m2 0h1m1 0h2m1 0h4m4 0h1m1 0h1m5 0h1m1 0h2m3 0h1m3 0h1m1 0h1m-63 1h2m13 0h1m6 0h1m2 0h1m3 0h1m2 0h1m6 0h2m5 0h1m2 0h1m4 0h6m11 0h2m-91 1h1m8 0h1m5 0h1m1 0h1m7 0h2m1 0h1m1 0h3m1 0h1m6 0h1m5 0h1m3 0h1m1 0h2m3 0h1m3 0h2m1 0h3m32 0h1m-96 1h1m9 0h1m6 0h2m12 0h2m2 0h5m1 0h3m1 0h1m3 0h1m1 0h2m4 0h2m1 0h1m1 0h1m1 0h1m4 0h1m1 0h2m9 0h1m4 0h1m-92 1h1m11 0h1m9 0h1m2 0h1m2 0h1m3 0h1m1 0h1m6 0h3m1 0h2m6 0h3m8 0h1m2 0h2m1 0h1m9 0h1m9 0h1m3 0h1m4 0h1m-97 1h1m12 0h2m2 0h2m1 0h2m1 0h1m1 0h1m2 0h1m5 0h1m1 0h2m1 0h2m1 0h2m1 0h1m2 0h1m1 0h2m5 0h2m3 0h1m1 0h3m6 0h1m4 0h2m8 0h2m3 0h1m-99 1h1m6 0h1m10 0h2m2 0h1m2 0h2m2 0h1m2 0h1m1 0h3m1 0h7m1 0h1m3 0h1m5 0h1m1 0h1m2 0h2m2 0h1m1 0h6m3 0h3m9 0h1m-86 1h2m2 0h2m1 0h1m4 0h1m8 0h1m3 0h1m1 0h1m3 0h6m3 0h3m4 0h1m2 0h2m1 0h2m3 0h4m2 0h2m1 0h1m3 0h1m1 0h1m1 0h1m2 0h1m3 0h2m2 0h1m-94 1h1m5 0h1m1 0h1m2 0h1m3 0h1m3 0h1m1 0h2m1 0h1m2 0h1m2 0h2m1 0h6m2 0h2m1 0h1m1 0h1m1 0h1m3 0h3m1 0h1m3 0h1m1 0h2m2 0h1m1 0h1m2 0h5m1 0h3m2 0h2m1 0h1m1 0h2m2 0h2m1 0h1m1 0h1m-95 1h1m1 0h1m5 0h1m4 0h1m3 0h2m2 0h2m6 0h2m2 0h1m1 0h4m1 0h7m1 0h2m1 0h1m5 0h3m1 0h2m2 0h1m2 0h5m4 0h1m3 0h1m3 0h1m1 0h1m5 0h2m1 0h1m-93 1h1m1 0h2m4 0h1m6 0h2m3 0h1m6 0h2m1 0h1m2 0h5m1 0h2m2 0h1m1 0h1m2 0h4m1 0h1m1 0h1m1 0h2m2 0h1m3 0h3m1 0h2m1 0h1m1 0h2m1 0h2m1 0h1m1 0h1m2 0h1m1 0h2m2 0h1m-91 1h2m1 0h1m4 0h1m3 0h1m1 0h1m2 0h1m4 0h6m1 0h1m1 0h2m1 0h6m1 0h1m1 0h1m3 0h4m1 0h3m1 0h1m2 0h3m1 0h1m2 0h1m3 0h1m1 0h1m1 0h1m1 0h1m1 0h1m4 0h1m7 0h1m-96 1h1m1 0h1m2 0h1m1 0h2m3 0h1m1 0h4m2 0h1m6 0h3m1 0h2m1 0h2m1 0h7m1 0h4m1 0h2m2 0h1m3 0h1m2 0h4m1 0h1m1 0h1m1 0h2m3 0h5m1 0h2m2 0h1m6 0h2m2 0h1m3 0h1m-101 1h1m1 0h3m1 0h2m2 0h2m1 0h3m1 0h2m1 0h1m1 0h4m3 0h4m1 0h5m1 0h2m1 0h2m1 0h5m2 0h5m1 0h4m3 0h3m1 0h1m1 0h3m1 0h3m3 0h1m1 0h1m1 0h1m2 0h1m4 0h1m1 0h1m1 0h1m-103 1h1m2 0h2m1 0h9m1 0h2m1 0h1m1 0h5m1 0h3m1 0h7m1 0h8m1 0h5m1 0h1m1 0h4m3 0h1m1 0h4m3 0h3m1 0h2m2 0h5m1 0h4m3 0h1m18 0h1m1 0h1m-111 1h2m1 0h1m2 0h1m1 0h1m1 0h8m1 0h2m2 0h1m1 0h2m2 0h9m1 0h8m2 0h1m1 0h1m1 0h2m1 0h4m2 0h1m3 0h1m2 0h1m3 0h7m1 0h1m1 0h2m3 0h5m1 0h1m6 0h1m-104 1h2m2 0h2m1 0h1m1 0h6m1 0h1m1 0h3m1 0h1m1 0h2m1 0h6m1 0h1m1 0h17m1 0h1m1 0h1m1 0h5m1 0h1m1 0h1m2 0h2m2 0h7m1 0h1m1 0h3m3 0h1m6 0h2m-100 1h3m1 0h7m1 0h5m1 0h2m1 0h18m1 0h13m1 0h2m1 0h4m1 0h4m1 0h1m1 0h1m1 0h4m3 0h2m1 0h1m4 0h1m1 0h1m3 0h1m1 0h1m1 0h1m1 0h1m8 0h1m-108 1h3m1 0h2m1 0h1m1 0h27m2 0h2m2 0h14m1 0h1m2 0h1m1 0h3m1 0h6m3 0h1m1 0h7m3 0h2m3 0h1m2 0h1m3 0h2m-101 1h3m2 0h3m1 0h16m1 0h5m2 0h9m1 0h3m1 0h6m4 0h3m2 0h3m1 0h2m1 0h5m2 0h4m2 0h3m5 0h3m5 0h1m4 0h1m3 0h1m5 0h1m-114 1h1m1 0h3m2 0h2m1 0h20m1 0h19m2 0h7m1 0h2m1 0h1m1 0h1m2 0h3m1 0h1m1 0h2m1 0h1m2 0h1m1 0h1m2 0h1m2 0h6m4 0h1m-97 1h6m1 0h22m1 0h4m1 0h4m1 0h1m1 0h9m1 0h2m2 0h1m1 0h1m4 0h5m1 0h1m1 0h2m1 0h1m1 0h1m1 0h2m4 0h3m3 0h2m3 0h1m10 0h1m-108 1h1m1 0h28m1 0h1m2 0h5m1 0h2m1 0h2m2 0h3m1 0h5m3 0h1m1 0h3m1 0h2m2 0h2m1 0h1m1 0h2m2 0h2m7 0h1m1 0h1m4 0h1m2 0h1m5 0h1m-105 1h1m2 0h51m1 0h3m1 0h3m4 0h3m1 0h1m1 0h1m1 0h2m4 0h1m1 0h1m3 0h1m6 0h1m1 0h1m-96 1h20m1 0h7m1 0h10m1 0h12m1 0h5m1 0h1m1 0h1m2 0h5m1 0h1m1 0h4m1 0h1m1 0h2m2 0h1m4 0h1m1 0h1m1 0h1m12 0h1m-105 1h23m1 0h2m1 0h4m1 0h11m1 0h4m1 0h8m2 0h1m3 0h1m1 0h1m2 0h2m2 0h3m2 0h2m3 0h4m1 0h2m2 0h1m8 0h2m-101 1h35m1 0h4m2 0h1m3 0h4m2 0h3m1 0h1m3 0h2m1 0h1m1 0h3m2 0h3m2 0h2m7 0h1m4 0h2m6 0h2m-100 1h30m1 0h2m1 0h5m1 0h8m3 0h2m1 0h1m2 0h1m2 0h5m3 0h2m2 0h1m3 0h2m6 0h1m1 0h2m2 0h1m-91 1h22m1 0h18m1 0h5m1 0h1m1 0h2m1 0h1m1 0h2m1 0h2m2 0h3m1 0h1m2 0h1m1 0h1m7 0h1m2 0h2m2 0h2m4 0h1m6 0h1m6 0h2m-108 1h46m1 0h3m2 0h2m2 0h1m2 0h1m3 0h4m1 0h1m5 0h1m5 0h1m3 0h1m1 0h1m5 0h1m6 0h1m-100 1h40m1 0h4m2 0h4m1 0h6m1 0h1m1 0h1m1 0h2m1 0h1m1 0h2m2 0h1m3 0h1m5 0h2m1 0h1m13 0h1m5 0h1m-107 1h4m1 0h11m1 0h24m1 0h6m2 0h1m1 0h1m4 0h1m2 0h3m5 0h2m4 0h3m4 0h1m1 0h2m12 0h1m5 0h1m-104 1h41m1 0h2m1 0h5m1 0h2m2 0h1m1 0h1m1 0h1m4 0h2m3 0h2m1 0h1m2 0h2m2 0h2m3 0h1m5 0h2m9 0h1m-102 1h44m1 0h3m1 0h5m1 0h2m1 0h3m2 0h1m1 0h2m1 0h1m1 0h2m4 0h1m3 0h1m8 0h1m5 0h1m4 0h1m10 0h1m1 0h1m-114 1h34m1 0h1m2 0h1m1 0h5m1 0h1m4 0h1m4 0h1m4 0h1m3 0h5m1 0h1m7 0h1m4 0h1m11 0h2m-98 1h26m1 0h3m1 0h1m2 0h4m1 0h3m1 0h6m2 0h2m2 0h1m1 0h3m2 0h1m1 0h1m6 0h2m1 0h1m1 0h1m13 0h1m6 0h1m5 0h1m-104 1h23m1 0h6m1 0h3m2 0h3m1 0h2m1 0h2m1 0h1m1 0h2m2 0h1m1 0h2m3 0h1m2 0h1m7 0h3m1 0h1m1 0h1m9 0h1m5 0h1m-92 1h28m1 0h11m2 0h1m7 0h1m2 0h1m1 0h3m2 0h1m2 0h3m-67 1h43m4 0h2m2 0h4m3 0h1m2 0h1m2 0h4m4 0h1m2 0h2m9 0h1m-86 1h26m2 0h8m1 0h1m1 0h4m1 0h1m1 0h1m2 0h2m1 0h1m1 0h1m4 0h2m7 0h1m-70 1h32m1 0h4m2 0h3m1 0h2m2 0h3m4 0h1m2 0h6m1 0h1m1 0h1m2 0h1m3 0h1m-74 1h33m2 0h3m1 0h2m1 0h2m3 0h1m4 0h1m2 0h1m2 0h2m2 0h1m1 0h1m1 0h1m12 0h1m-80 1h23m1 0h10m10 0h1m5 0h2m3 0h2m7 0h1m1 0h1m5 0h1m6 0h2m-80 1h19m1 0h6m1 0h1m1 0h2m1 0h2m2 0h2m5 0h2m4 0h1m6 0h1m3 0h1m3 0h1m3 0h1m2 0h1m8 0h1m-82 1h24m1 0h7m1 0h3m2 0h1m2 0h1m4 0h2m10 0h1m3 0h4m3 0h1m1 0h1m1 0h1m-73 1h29m1 0h4m1 0h1m2 0h2m6 0h1m4 0h1m2 0h1m1 0h1m1 0h2m4 0h3m3 0h1m1 0h1m3 0h1m-77 1h2m1 0h23m2 0h4m1 0h2m2 0h1m6 0h1m14 0h2m1 0h1m1 0h1m4 0h1m4 0h1m7 0h1m11 0h1m-94 1h1m1 0h20m1 0h2m1 0h3m1 0h1m1 0h1m4 0h1m1 0h1m2 0h1m3 0h1m5 0h3m1 0h2m1 0h1m1 0h1m3 0h1m6 0h2m2 0h1m3 0h1m-83 1h24m1 0h1m1 0h2m1 0h1m1 0h1m2 0h1m1 0h1m2 0h1m10 0h1m1 0h2m11 0h1m1 0h1m1 0h1m1 0h1m9 0h2m6 0h1m-91 1h9m1 0h18m1 0h2m8 0h2m10 0h2m7 0h1m1 0h2m4 0h1m2 0h1m6 0h1m-78 1h18m1 0h3m1 0h1m1 0h1m1 0h2m4 0h2m1 0h1m8 0h1m3 0h1m8 0h1m1 0h1m2 0h1m2 0h1m1 0h1m4 0h2m5 0h1m1 0h1m-83 1h13m2 0h2m1 0h7m1 0h2m2 0h1m5 0h1m14 0h1m5 0h2m1 0h3m1 0h1m1 0h2m3 0h1m3 0h2m-78 1h4m2 0h3m1 0h5m2 0h2m1 0h3m1 0h2m1 0h1m2 0h1m1 0h1m1 0h1m3 0h1m3 0h1m2 0h1m4 0h1m4 0h2m4 0h1m2 0h1m1 0h2m2 0h1m3 0h2m-75 1h2m1 0h6m1 0h5m1 0h2m1 0h1m3 0h2m3 0h1m16 0h1m15 0h2m6 0h2m8 0h1m-80 1h2m2 0h4m1 0h9m1 0h7m3 0h1m1 0h1m4 0h1m18 0h1m4 0h1m2 0h2m5 0h1m1 0h2m-75 1h4m1 0h3m1 0h9m2 0h2m3 0h2m2 0h2m6 0h1m10 0h1m1 0h1m1 0h1m4 0h1m3 0h1m1 0h2m1 0h2m7 0h1m-76 1h6m1 0h3m2 0h2m2 0h3m1 0h3m6 0h1m2 0h1m2 0h2m13 0h2m4 0h1m1 0h1m6 0h1m19 0h1m-85 1h2m1 0h3m1 0h2m1 0h8m2 0h2m5 0h2m3 0h1m3 0h1m1 0h1m8 0h1m17 0h1m1 0h1m6 0h2m-76 1h1m1 0h13m2 0h1m1 0h1m4 0h1m9 0h1m6 0h1m15 0h1m2 0h1m2 0h1m1 0h2m2 0h1m1 0h1m3 0h1m6 0h1m-83 1h2m1 0h7m1 0h1m1 0h1m1 0h1m1 0h4m1 0h2m1 0h3m1 0h2m6 0h1m15 0h1m7 0h2m14 0h3m-79 1h1m1 0h1m1 0h2m1 0h2m3 0h1m1 0h1m2 0h1m5 0h3m1 0h2m7 0h1m2 0h1m11 0h1m3 0h1m2 0h1m6 0h2m1 0h1m2 0h1m1 0h1m-74 1h1m1 0h3m1 0h1m2 0h2m2 0h1m1 0h1m4 0h1m1 0h1m2 0h3m1 0h2m23 0h1m7 0h1m3 0h1m4 0h1m1 0h2m2 0h1m-78 1h3m1 0h2m2 0h5m2 0h1m4 0h2m2 0h3m1 0h2m1 0h1m4 0h1m2 0h1m2 0h1m5 0h1m6 0h1m1 0h1m3 0h2m2 0h1m-67 1h1m3 0h1m2 0h1m2 0h2m1 0h3m1 0h3m1 0h4m2 0h1m1 0h4m2 0h1m3 0h1m1 0h2m12 0h1m7 0h1m8 0h1m2 0h1m3 0h1m-80 1h2m1 0h1m3 0h4m1 0h1m2 0h2m1 0h2m4 0h2m2 0h1m5 0h4m8 0h1m7 0h1m3 0h1m3 0h1m13 0h1m8 0h1m-86 1h1m3 0h1m3 0h5m1 0h4m1 0h9m5 0h1m2 0h3m16 0h1m26 0h1m-82 1h1m4 0h1m1 0h1m1 0h2m3 0h4m3 0h2m2 0h3m2 0h1m1 0h1m2 0h2m1 0h1m30 0h1m15 0h1m-83 1h6m1 0h1m3 0h1m4 0h2m1 0h1m3 0h1m1 0h1m3 0h2m8 0h1m13 0h1m3 0h1m4 0h1m1 0h1m12 0h1m-82 1h1m2 0h2m3 0h1m1 0h1m5 0h2m2 0h1m4 0h2m2 0h1m3 0h1m6 0h1m12 0h1m5 0h1m4 0h2m9 0h1m-75 1h1m1 0h1m3 0h1m3 0h2m2 0h2m3 0h2m2 0h2m2 0h1m9 0h1m12 0h1m7 0h1m3 0h1m-61 1h1m2 0h1m2 0h6m1 0h1m3 0h1m6 0h1m5 0h1m38 0h1m-73 1h2m3 0h3m3 0h1m1 0h2m2 0h1m1 0h1m2 0h1m6 0h2m2 0h2m5 0h2m1 0h1m24 0h1m-68 1h1m6 0h1m1 0h1m1 0h2m1 0h1m3 0h2m4 0h4m4 0h1m8 0h1m-42 1h1m4 0h2m1 0h1m4 0h5m1 0h1m3 0h2m1 0h1m4 0h1m12 0h1m-46 1h1m1 0h1m6 0h2m1 0h3m2 0h1m4 0h3m2 0h2m16 0h1m15 0h1m3 0h1m-61 1h1m5 0h1m1 0h1m2 0h1m1 0h2m1 0h3m3 0h1m12 0h1m23 0h1m15 0h1m-79 1h1m6 0h2m1 0h1m1 0h1m2 0h1m7 0h2m2 0h1m6 0h1m6 0h1m15 0h2m11 0h1m11 0h1m-76 1h1m6 0h2m1 0h3m1 0h3m4 0h1m1 0h2m1 0h1m26 0h1m-62 1h1m7 0h1m2 0h4m1 0h2m2 0h1m10 0h1m3 0h2m-30 1h2m2 0h1m5 0h1m4 0h2m2 0h2m11 0h1m-33 1h1m2 0h1m2 0h1m3 0h2m1 0h1m4 0h1m2 0h1m2 0h1m40 0h1m-67 1h2m1 0h1m3 0h1m5 0h4m3 0h1m6 0h1m-33 1h1m1 0h1m1 0h1m4 0h1m1 0h1m2 0h1m3 0h1m4 0h2m2 0h1m-28 1h1m4 0h1m1 0h1m5 0h1m3 0h1m3 0h1m18 0h1m6 0h1m-40 1h2m5 0h1m1 0h1m4 0h1m1 0h1m2 0h1m-20 1h1m3 0h1m7 0h1m12 0h1m31 0h1m-54 1h2m1 0h1m8 0h1m2 0h2m-28 1h1m2 0h1m56 0h1m16 0h1m-81 1h1m14 0h2m1 0h1m1 0h2m11 0h1m-33 1h1m9 0h1m9 0h1m-12 1h1m7 0h1m5 0h1m46 0h1m-71 1h1m2 0h1m9 0h2m0 1h2m2 0h1m6 0h1m7 0h1m23 0h1m-47 1h3m7 0h1m2 0h1m5 0h1m-26 1h1m9 0h2m2 0h1m-13 1h1m3 0h1m1 0h1m7 0h1m1 0h1m-27 1h1m2 0h1m17 0h1m12 0h1m-27 1h1m1 0h1m2 0h1m3 0h1m3 0h1m2 0h1m11 0h2m-36 1h1m3 0h1m2 0h1m8 0h3m1 0h1m-21 1h1m10 0h2m3 0h1m2 0h1m4 0h1m5 0h1m-31 1h1m4 0h1m16 0h1m7 0h1m6 0h1m-16 1h2m1 0h1m-25 1h1m3 0h1m9 0h1m2 0h1m1 0h1m11 0h1m-31 1h1m9 0h2m2 0h1m1 0h1m3 0h1m17 0h1m-41 1h1m2 0h1m3 0h1m3 0h1m2 0h1m-14 1h1m6 0h2m2 0h2m3 0h1m1 0h1m1 0h1m5 0h1m1 0h1m7 0h1m-33 1h1m1 0h1m3 0h2m2 0h1m2 0h2m1 0h1m1 0h3m-19 1h1m5 0h2m4 0h2m1 0h1m2 0h2m1 0h1m6 0h1m-35 1h1m4 0h3m1 0h2m1 0h1m1 0h1m1 0h1m3 0h1m5 0h1m3 0h1m3 0h1m-35 1h1m5 0h1m1 0h1m2 0h1m8 0h1m4 0h1m2 0h2m-27 1h1m4 0h1m3 0h1m9 0h1m2 0h1m2 0h2m-32 1h1m12 0h1m3 0h1m9 0h1m-28 1h1m1 0h1m1 0h1m8 0h2m3 0h1m7 0h1m3 0h2m9 0h1m-31 1h1m1 0h1m5 0h2m2 0h2m4 0h1m3 0h1m-29 1h1m4 0h1m7 0h1m1 0h1m2 0h1m1 0h1m-23 1h2m8 0h2m1 0h1m6 0h1m1 0h1m5 0h1m9 0h1m-43 1h1m6 0h2m1 0h1m3 0h1m7 0h4m4 0h1m1 0h1m-22 1h1m1 0h3m9 0h1m2 0h1m5 0h1m4 0h1m-31 1h1m1 0h1m9 0h1m1 0h2m4 0h1m-22 1h2m2 0h1m8 0h1m4 0h1m2 0h1m1 0h1m3 0h1m-28 1h1m6 0h1m1 0h1m-11 1h1m2 0h1m4 0h1m4 0h1m3 0h1m4 0h1m-15 1h1m5 0h2m-14 1h2m6 0h1m10 0h1m-23 1h1m10 16h1" stroke="#000" stroke-width="1" fill="none" shape-rendering="crispEdges"/>
<path d="M417 45.5h1m-21 3h1m-9 1h1m27 0h1m-76 1h1m75 1h1m-84 2h1m5 4h1m72 1h1m-38 1h1m14 0h1m-6 4h1m-17 1h1m12 0h1m-2 1h1m6 1h2m-13 1h2m3 1h1m1 0h1m-30 1h1m28 0h1m1 0h1m-17 2h1m1 0h1m24 0h1m-36 1h1m18 0h1m3 0h1m11 0h1m-28 1h1m2 0h1m2 0h1m28 0h1m-33 1h1m1 0h1m1 0h1m2 0h1m2 0h1m11 0h2m-54 1h1m21 0h1m3 0h1m3 0h1m4 0h1m2 0h2m3 0h1m1 0h1m-46 1h1m14 0h1m4 0h1m1 0h2m1 0h1m7 0h1m5 0h1m4 0h1m1 0h1m9 0h1m-57 1h1m20 0h5m6 0h1m7 0h2m5 0h1m8 0h1m-69 1h1m10 0h1m8 0h1m7 0h2m3 0h1m2 0h3m3 0h1m3 0h3m1 0h2m6 0h1m2 0h1m1 0h2m1 0h1m-44 1h1m6 0h1m3 0h3m8 0h1m10 0h1m2 0h2m2 0h1m5 0h1m1 0h1m-70 1h1m17 0h1m3 0h2m6 0h1m1 0h1m1 0h1m3 0h1m2 0h1m2 0h3m2 0h1m2 0h1m1 0h3m5 0h2m-53 1h1m2 0h1m1 0h1m4 0h1m7 0h1m1 0h4m3 0h3m1 0h1m1 0h8m4 0h2m4 0h3m1 0h1m-72 1h1m8 0h1m6 0h1m8 0h1m1 0h1m3 0h1m2 0h3m3 0h2m2 0h1m1 0h2m1 0h2m1 0h2m2 0h1m9 0h3m1 0h1m3 0h1m-73 1h1m12 0h3m1 0h1m2 0h1m3 0h2m3 0h3m4 0h1m1 0h2m2 0h1m1 0h1m1 0h1m4 0h1m1 0h1m1 0h1m3 0h1m2 0h1m2 0h2m-64 1h1m11 0h1m2 0h1m4 0h1m2 0h2m1 0h1m1 0h1m2 0h1m1 0h1m1 0h1m2 0h7m4 0h1m1 0h1m2 0h2m2 0h1m1 0h1m10 0h1m-65 1h2m1 0h4m4 0h1m1 0h1m2 0h8m3 0h1m1 0h5m1 0h4m3 0h4m1 0h1m1 0h1m5 0h1m-67 1h1m5 0h1m1 0h2m1 0h1m2 0h1m1 0h1m1 0h2m1 0h4m1 0h3m1 0h1m2 0h4m1 0h8m2 0h1m5 0h1m1 0h5m1 0h1m1 0h4m6 0h1m-79 1h1m8 0h2m2 0h2m3 0h1m1 0h1m2 0h8m1 0h4m1 0h1m2 0h6m1 0h4m2 0h3m1 0h5m4 0h1m5 0h1m3 0h1m2 0h1m18 0h1m-101 1h1m4 0h1m7 0h1m1 0h2m2 0h2m3 0h3m2 0h1m2 0h4m1 0h1m1 0h1m1 0h3m4 0h1m1 0h1m1 0h12m3 0h1m1 0h2m6 0h3m-74 1h1m2 0h3m2 0h1m1 0h3m1 0h2m1 0h1m1 0h10m1 0h1m1 0h3m1 0h7m2 0h2m1 0h2m1 0h9m1 0h2m3 0h1m1 0h1m1 0h1m-68 1h2m1 0h1m1 0h3m2 0h30m1 0h12m1 0h4m2 0h3m1 0h2m2 0h2m8 0h1m-83 1h1m6 0h4m1 0h2m1 0h7m1 0h4m1 0h4m1 0h11m2 0h4m1 0h8m1 0h6m2 0h2m2 0h1m-74 1h2m1 0h2m3 0h4m1 0h1m1 0h1m1 0h23m1 0h6m1 0h12m2 0h4m3 0h1m1 0h2m1 0h1m3 0h1m-77 1h1m2 0h2m1 0h2m3 0h1m1 0h2m1 0h1m1 0h10m1 0h1m1 0h12m1 0h10m2 0h5m1 0h2m1 0h2m5 0h2m2 0h1m7 0h1m-88 1h3m2 0h4m2 0h18m1 0h26m1 0h3m1 0h6m2 0h1m2 0h1m6 0h1m-81 1h2m2 0h1m3 0h5m1 0h35m1 0h15m1 0h1m3 0h2m8 0h2m4 0h1m-88 1h1m2 0h2m3 0h27m1 0h5m1 0h13m1 0h1m1 0h6m3 0h3m2 0h1m1 0h1m1 0h1m1 0h1m1 0h1m12 0h1m-93 1h2m1 0h38m1 0h7m1 0h4m1 0h12m1 0h5m1 0h1m11 0h1m-86 1h1m1 0h2m1 0h3m1 0h50m1 0h3m1 0h3m1 0h4m1 0h3m1 0h2m2 0h1m1 0h2m2 0h2m-92 1h1m2 0h57m1 0h2m1 0h4m1 0h3m1 0h2m2 0h2m4 0h1m-84 1h2m2 0h49m1 0h3m1 0h1m1 0h3m2 0h3m2 0h2m2 0h1m1 0h1m2 0h1m1 0h1m17 0h1m-100 1h1m2 0h1m1 0h1m1 0h2m1 0h44m1 0h3m1 0h4m1 0h2m2 0h4m1 0h1m2 0h1m1 0h2m3 0h1m2 0h1m-87 1h3m1 0h57m1 0h5m1 0h3m2 0h3m1 0h2m2 0h1m2 0h1m-84 1h64m2 0h2m1 0h1m1 0h2m2 0h1m6 0h1m-82 1h2m1 0h38m1 0h13m1 0h6m1 0h3m2 0h1m1 0h4m1 0h2m3 0h1m1 0h1m-84 1h3m1 0h49m1 0h2m1 0h1m1 0h7m1 0h4m5 0h3m1 0h1m6 0h2m-89 1h2m1 0h45m1 0h8m1 0h4m1 0h5m1 0h2m1 0h2m1 0h5m3 0h1m-85 1h1m1 0h45m1 0h16m2 0h4m1 0h1m4 0h1m10 0h1m10 0h1m-99 1h1m1 0h2m1 0h43m1 0h8m1 0h2m1 0h4m1 0h2m2 0h2m3 0h1m1 0h1m3 0h1m1 0h1m1 0h1m1 0h1m-87 1h1m1 0h51m1 0h5m1 0h2m4 0h7m1 0h4m-78 1h60m1 0h2m1 0h6m1 0h1m2 0h2m4 0h2m2 0h1m3 0h1m-89 1h9m1 0h36m1 0h4m1 0h2m1 0h1m1 0h1m2 0h2m1 0h4m1 0h2m2 0h1m1 0h1m4 0h1m-81 1h47m3 0h2m1 0h2m1 0h6m1 0h4m1 0h1m2 0h1m1 0h3m1 0h1m1 0h1m11 0h1m-92 1h42m2 0h1m1 0h2m1 0h2m5 0h3m1 0h2m1 0h3m5 0h1m1 0h1m1 0h1m1 0h1m5 0h1m4 0h2m-89 1h42m1 0h1m1 0h4m3 0h1m1 0h2m1 0h1m1 0h1m1 0h1m2 0h2m2 0h3m2 0h2m2 0h1m2 0h2m-82 1h41m1 0h2m1 0h3m1 0h2m2 0h2m1 0h4m4 0h1m4 0h1m7 0h1m4 0h1m1 0h1m-85 1h39m1 0h7m1 0h1m1 0h1m2 0h2m3 0h6m1 0h3m5 0h1m1 0h2m5 0h1m5 0h1m9 0h1m-99 1h3m1 0h38m1 0h8m1 0h1m1 0h1m1 0h2m1 0h1m3 0h3m2 0h1m2 0h1m2 0h1m2 0h2m-80 1h2m1 0h30m1 0h10m1 0h1m1 0h7m4 0h1m1 0h4m1 0h2m1 0h2m1 0h1m1 0h1m8 0h1m6 0h1m-89 1h1m1 0h41m1 0h5m3 0h2m1 0h1m5 0h1m1 0h1m2 0h3m4 0h1m4 0h1m-79 1h10m1 0h19m2 0h12m1 0h1m3 0h1m4 0h1m2 0h1m3 0h1m4 0h4m2 0h1m-74 1h30m1 0h10m4 0h4m2 0h3m4 0h2m1 0h1m4 0h1m2 0h1m5 0h1m3 0h1m7 0h1m-87 1h2m1 0h35m1 0h1m1 0h1m1 0h1m2 0h2m1 0h1m3 0h2m1 0h1m1 0h1m1 0h4m5 0h3m8 0h1m-81 1h1m2 0h28m2 0h2m2 0h1m2 0h1m1 0h2m5 0h1m7 0h4m3 0h1m4 0h2m5 0h1m2 0h1m4 0h1m-85 1h2m4 0h1m1 0h2m1 0h7m1 0h12m1 0h1m1 0h2m2 0h2m1 0h2m9 0h2m3 0h1m1 0h1m1 0h1m2 0h2m1 0h1m8 0h1m6 0h1m-85 1h1m1 0h2m1 0h1m2 0h23m3 0h3m2 0h5m3 0h1m3 0h2m2 0h1m4 0h1m5 0h1m-66 1h1m1 0h10m1 0h11m1 0h3m1 0h2m1 0h1m1 0h1m3 0h1m5 0h1m2 0h1m1 0h1m12 0h2m1 0h1m11 0h1m-79 1h1m2 0h4m1 0h26m1 0h4m1 0h2m1 0h2m3 0h2m4 0h1m7 0h1m1 0h1m8 0h1m-70 1h1m1 0h2m2 0h3m1 0h11m1 0h2m2 0h6m1 0h1m4 0h2m8 0h1m7 0h1m5 0h1m4 0h2m-71 1h1m5 0h5m1 0h1m1 0h1m1 0h1m1 0h7m1 0h4m1 0h3m1 0h2m2 0h3m9 0h1m7 0h1m4 0h1m8 0h1m12 0h1m-88 1h1m1 0h1m1 0h9m1 0h5m1 0h2m1 0h2m1 0h5m1 0h1m5 0h2m6 0h1m6 0h1m6 0h1m2 0h1m29 0h1m-92 1h1m1 0h3m2 0h2m1 0h6m1 0h2m1 0h1m5 0h3m1 0h4m3 0h2m1 0h1m2 0h1m8 0h1m4 0h1m4 0h3m6 0h1m2 0h1m18 0h1m-97 1h1m2 0h1m2 0h1m2 0h2m1 0h1m1 0h4m1 0h6m1 0h3m2 0h2m2 0h2m5 0h1m1 0h1m6 0h1m6 0h2m1 0h1m13 0h1m6 0h1m-83 1h1m6 0h5m2 0h1m1 0h1m1 0h4m1 0h1m1 0h2m1 0h2m2 0h1m1 0h2m2 0h1m2 0h1m5 0h1m3 0h1m11 0h1m9 0h1m-70 1h4m4 0h2m2 0h1m1 0h5m1 0h3m1 0h5m1 0h1m2 0h1m1 0h1m2 0h1m9 0h1m1 0h1m7 0h2m-63 1h1m4 0h6m1 0h2m1 0h2m1 0h1m1 0h1m1 0h2m3 0h3m2 0h2m1 0h2m1 0h1m1 0h1m1 0h2m1 0h1m15 0h1m5 0h1m-68 1h1m1 0h1m2 0h5m3 0h2m1 0h1m1 0h1m1 0h2m1 0h3m2 0h2m1 0h1m1 0h1m1 0h3m3 0h2m-43 1h1m6 0h2m1 0h1m2 0h1m1 0h1m1 0h1m1 0h1m1 0h6m3 0h1m1 0h1m5 0h2m1 0h1m3 0h2m15 0h1m4 0h1m1 0h1m1 0h1m-72 1h2m3 0h1m1 0h2m1 0h1m1 0h4m1 0h1m1 0h4m2 0h5m2 0h1m2 0h3m2 0h1m1 0h1m1 0h1m5 0h1m13 0h1m-65 1h2m2 0h1m2 0h1m1 0h2m1 0h2m1 0h1m3 0h1m1 0h5m1 0h5m3 0h4m7 0h1m15 0h1m3 0h1m-67 1h1m2 0h1m2 0h2m1 0h1m1 0h2m2 0h1m3 0h1m3 0h7m1 0h2m1 0h1m1 0h3m2 0h1m6 0h1m9 0h1m-55 1h1m2 0h1m4 0h4m1 0h3m1 0h4m1 0h2m1 0h2m4 0h3m2 0h1m2 0h2m2 0h1m4 0h1m-50 1h1m7 0h2m4 0h1m1 0h2m1 0h1m1 0h2m1 0h2m2 0h4m1 0h1m2 0h1m5 0h2m1 0h1m3 0h1m-51 1h3m2 0h1m3 0h1m2 0h1m1 0h3m2 0h1m1 0h1m1 0h6m4 0h2m1 0h1m6 0h2m-42 1h1m3 0h1m1 0h1m1 0h1m5 0h1m1 0h1m3 0h1m1 0h1m3 0h4m4 0h1m2 0h1m1 0h2m3 0h1m1 0h1m-51 1h1m3 0h1m2 0h1m3 0h2m2 0h1m1 0h1m2 0h2m1 0h2m12 0h4m1 0h2m22 0h1m-68 1h1m6 0h1m2 0h2m5 0h1m3 0h2m1 0h2m1 0h3m6 0h1m3 0h1m-34 1h1m5 0h1m2 0h1m2 0h3m1 0h1m7 0h1m1 0h1m6 0h1m14 0h1m-45 1h1m2 0h6m3 0h1m3 0h2m1 0h2m2 0h1m2 0h1m4 0h1m-32 1h1m4 0h1m3 0h1m1 0h3m4 0h2m2 0h3m7 0h1m7 0h1m15 0h1m-59 1h1m2 0h1m2 0h1m2 0h6m1 0h1m1 0h1m4 0h1m2 0h1m19 0h1m-54 1h1m6 0h1m9 0h2m1 0h1m2 0h1m3 0h1m6 0h2m8 0h1m1 0h1m-39 1h1m2 0h1m11 0h1m7 0h1m4 0h1m1 0h1m-31 1h1m6 0h1m1 0h1m5 0h1m1 0h1m2 0h2m-21 1h1m1 0h1m1 0h1m5 0h1m3 0h1m1 0h1m4 0h1m1 0h2m3 0h1m-27 1h1m17 0h1m6 0h1m-19 1h1m3 0h1m17 0h1m3 0h1m1 0h1m-34 1h1m5 0h1m1 0h1m18 0h1m-3 1h1m-39 1h1m24 0h1m-21 1h1m4 0h1m1 0h1m9 0h1m4 0h1m9 0h1m-31 1h1m6 0h1m10 0h1m11 0h1m-35 1h1m2 0h1m5 0h1m8 0h1m8 0h1m6 0h1m-26 1h1m5 0h1m26 0h1m-45 1h1m11 0h3m3 0h1m8 0h1m5 0h1m9 0h1m-29 1h1m2 0h1m1 0h2m1 0h1m5 0h1m-24 1h1m1 0h1m17 0h1m8 0h1m2 0h2m-26 1h1m4 0h1m5 0h1m1 0h1m-29 1h2m10 0h1m3 0h1m4 0h3m-8 1h1m15 0h1m1 0h1m-24 1h1m8 0h1m-21 1h1m7 0h1m1 0h2m3 0h1m4 0h1m1 0h1m9 0h1m-21 1h1m3 0h4m2 0h3m3 0h1m3 0h1m1 0h1m7 0h1m-31 1h1m1 0h1m3 0h1m1 0h1m1 0h1m-22 1h1m19 0h2m10 0h1m4 0h1m-33 1h1m9 0h1m9 0h2m12 0h1m-32 1h1m4 0h1m3 0h1m5 0h1m4 0h1m1 0h1m3 0h1m-35 1h1m7 0h1m5 0h1m5 0h1m1 0h1m1 0h1m12 0h1m-39 1h1m5 0h1m3 0h1m2 0h1m2 0h1m4 0h2m4 0h1m9 0h1m5 0h1m-39 1h1m5 0h1m2 0h3m3 0h2m1 0h1m9 0h1m9 0h1m-42 1h1m4 0h2m6 0h2m12 0h1m7 0h1m1 0h1m6 0h1m-40 1h1m6 0h2m3 0h1m17 0h2m-38 1h1m3 0h1m5 0h3m8 0h1m16 0h1m4 0h1m-39 1h1m4 0h2m3 0h2m4 0h3m1 0h1m12 0h1m-23 1h1m1 0h1m3 0h1m3 0h1m5 0h1m-23 1h1m6 0h3m2 0h1m3 0h1m4 0h2m-25 1h1m1 0h4m5 0h1m3 0h1m-20 1h1m7 0h1m6 0h1m1 0h2m1 0h1m7 0h2m-28 1h2m11 0h1m6 0h2m1 0h1m-21 1h1m9 0h1m1 0h1m5 0h1m2 0h1m-22 1h1m7 0h1m7 0h3m-23 1h1m9 0h1m5 0h1m11 0h1m4 0h1m-31 1h2m1 0h1m4 0h1m5 0h1m7 0h2m-11 1h1m3 0h1m3 0h1m-27 1h1m3 0h1m3 0h1m2 0h1m30 0h1m-38 1h1m-7 1h1m4 0h1m8 0h1m6 0h1m4 0h1m11 0h1m-33 1h1m2 0h1m16 0h1m10 0h2m-35 2h2m7 0h1m11 0h1m-29 13h1m18 1h1" stroke="#000" stroke-width="1" fill="none" shape-rendering="crispEdges"/>
<path d="M102 46.5h1m-47 6h1m27 2h1m-14 1h1m30 1h1m10 3h1m22 1h1m-79 1h1m28 0h1m7 0h1m7 0h1m7 0h1m-16 3h1m4 0h1m21 0h1m-27 1h1m13 0h1m3 0h1m-26 1h1m22 0h1m7 0h1m-38 1h1m-6 1h1m29 0h1m-19 1h2m8 0h1m2 0h1m4 0h2m6 0h1m-29 1h1m2 0h1m1 0h1m2 0h1m1 0h1m19 0h1m11 0h1m-52 1h1m3 0h1m10 0h1m3 0h1m3 0h1m3 0h1m1 0h1m4 0h1m6 0h1m-27 1h2m10 0h1m4 0h1m4 0h2m10 0h1m10 0h1m-67 1h1m10 0h2m2 0h1m5 0h1m1 0h3m1 0h1m3 0h2m5 0h1m3 0h1m17 0h1m-57 1h1m4 0h1m8 0h2m3 0h2m2 0h3m1 0h1m4 0h1m10 0h1m14 0h1m-63 1h1m6 0h1m1 0h1m5 0h2m1 0h2m3 0h2m5 0h2m2 0h1m19 0h1m-66 1h1m3 0h1m10 0h1m2 0h1m3 0h1m8 0h1m4 0h2m1 0h1m2 0h3m2 0h2m3 0h1m3 0h1m-60 1h1m3 0h1m12 0h1m1 0h1m3 0h3m2 0h2m1 0h1m2 0h1m1 0h1m1 0h1m3 0h1m1 0h1m1 0h3m1 0h3m2 0h3m3 0h1m3 0h1m5 0h1m13 0h1m-78 1h1m1 0h1m13 0h1m2 0h1m2 0h1m1 0h1m1 0h2m1 0h1m1 0h1m4 0h1m1 0h2m2 0h3m1 0h1m6 0h1m7 0h1m3 0h1m-73 1h1m17 0h2m1 0h1m1 0h1m1 0h2m5 0h2m1 0h1m1 0h1m1 0h1m1 0h2m1 0h6m1 0h5m5 0h1m4 0h1m7 0h1m-77 1h1m5 0h1m4 0h1m2 0h2m4 0h1m2 0h1m1 0h10m1 0h1m2 0h1m1 0h3m1 0h3m1 0h2m2 0h2m4 0h4m1 0h1m5 0h1m12 0h1m-72 1h1m5 0h1m2 0h3m2 0h3m4 0h3m1 0h3m2 0h2m1 0h1m1 0h4m2 0h1m4 0h1m1 0h1m2 0h2m14 0h1m4 0h1m-95 1h1m5 0h1m2 0h1m5 0h1m1 0h2m2 0h2m1 0h1m4 0h2m2 0h2m1 0h7m1 0h1m1 0h1m1 0h13m1 0h3m2 0h3m1 0h1m1 0h1m1 0h1m2 0h1m4 0h1m-77 1h1m5 0h1m11 0h2m2 0h1m1 0h8m1 0h1m1 0h8m1 0h6m2 0h5m2 0h2m1 0h1m1 0h1m2 0h2m3 0h1m-65 1h1m2 0h1m2 0h2m1 0h1m1 0h3m1 0h2m1 0h2m2 0h1m1 0h1m1 0h5m1 0h8m1 0h11m2 0h2m1 0h1m1 0h1m1 0h1m2 0h2m1 0h1m1 0h1m4 0h1m-87 1h1m4 0h1m6 0h1m1 0h3m2 0h3m1 0h1m1 0h2m2 0h2m1 0h2m1 0h3m1 0h9m1 0h9m1 0h1m1 0h1m1 0h2m1 0h1m3 0h2m3 0h1m-61 1h2m1 0h2m2 0h1m2 0h3m3 0h9m1 0h6m1 0h5m1 0h1m1 0h6m1 0h1m1 0h5m5 0h1m2 0h1m-82 1h2m5 0h1m1 0h1m2 0h2m4 0h6m1 0h6m1 0h6m2 0h8m1 0h10m2 0h4m1 0h2m1 0h1m3 0h1m1 0h2m2 0h1m-73 1h1m3 0h1m1 0h1m1 0h7m1 0h8m1 0h26m2 0h10m1 0h1m1 0h1m3 0h2m3 0h1m-81 1h1m1 0h1m2 0h1m1 0h4m2 0h1m1 0h1m1 0h2m2 0h11m1 0h13m1 0h7m2 0h1m2 0h4m2 0h1m1 0h2m1 0h2m1 0h1m6 0h1m2 0h2m8 0h1m-101 1h1m5 0h1m2 0h1m7 0h3m2 0h4m1 0h1m1 0h4m1 0h13m1 0h6m1 0h3m1 0h3m1 0h5m1 0h4m1 0h2m2 0h2m1 0h2m1 0h1m1 0h1m7 0h1m-96 1h2m8 0h1m2 0h1m3 0h2m2 0h16m1 0h26m1 0h5m3 0h2m1 0h3m2 0h1m4 0h2m1 0h1m3 0h2m26 0h1m-116 1h1m3 0h3m1 0h1m1 0h1m1 0h1m1 0h13m1 0h35m1 0h3m1 0h2m1 0h4m1 0h1m1 0h3m-84 1h1m3 0h4m4 0h1m2 0h2m2 0h7m1 0h4m1 0h12m1 0h3m1 0h2m1 0h10m1 0h2m2 0h2m1 0h5m1 0h3m2 0h2m2 0h1m2 0h1m-92 1h1m5 0h1m1 0h3m4 0h7m1 0h23m1 0h9m1 0h5m1 0h1m1 0h1m1 0h4m1 0h8m1 0h2m1 0h1m14 0h1m-100 1h1m1 0h1m1 0h1m4 0h1m3 0h6m1 0h1m1 0h12m1 0h15m1 0h22m1 0h1m1 0h1m1 0h1m2 0h3m5 0h3m-88 1h3m1 0h1m2 0h2m1 0h14m1 0h32m2 0h4m1 0h7m1 0h4m2 0h2m10 0h1m-92 1h1m3 0h2m1 0h2m4 0h1m2 0h45m1 0h9m2 0h2m3 0h1m1 0h4m3 0h2m-90 1h1m2 0h4m2 0h45m1 0h8m1 0h7m1 0h1m1 0h2m1 0h1m1 0h2m1 0h2m2 0h1m2 0h1m3 0h1m-96 1h1m1 0h1m1 0h1m1 0h1m1 0h47m1 0h12m1 0h2m1 0h1m1 0h6m1 0h2m3 0h1m2 0h1m-88 1h7m1 0h50m1 0h1m1 0h1m1 0h2m2 0h10m1 0h1m5 0h1m1 0h1m-87 1h1m1 0h2m2 0h4m1 0h6m1 0h20m1 0h14m2 0h11m1 0h8m1 0h1m2 0h1m-82 1h1m2 0h3m3 0h50m2 0h2m1 0h9m5 0h1m5 0h2m2 0h2m6 0h1m-96 1h1m1 0h1m1 0h38m1 0h7m1 0h14m1 0h4m1 0h5m13 0h1m-91 1h2m2 0h53m1 0h5m1 0h3m1 0h1m2 0h1m2 0h1m3 0h1m1 0h1m3 0h1m2 0h1m-88 1h50m1 0h2m1 0h4m6 0h3m1 0h1m2 0h1m1 0h1m2 0h1m1 0h1m3 0h1m9 0h1m-92 1h1m2 0h39m1 0h3m1 0h5m1 0h9m1 0h2m2 0h3m8 0h3m3 0h1m1 0h1m-88 1h59m2 0h2m1 0h4m2 0h1m6 0h1m8 0h1m-85 1h3m1 0h42m1 0h6m1 0h8m1 0h6m2 0h3m1 0h1m17 0h1m-96 1h5m1 0h42m1 0h8m5 0h1m2 0h1m1 0h1m1 0h1m4 0h1m1 0h1m1 0h1m1 0h1m4 0h1m5 0h1m-92 1h3m1 0h38m1 0h4m2 0h5m1 0h6m1 0h2m1 0h1m3 0h1m1 0h1m2 0h1m1 0h1m3 0h1m14 0h1m-95 1h39m1 0h1m1 0h3m1 0h8m4 0h2m2 0h2m1 0h1m1 0h1m16 0h1m-86 1h39m2 0h10m1 0h5m1 0h1m2 0h3m2 0h1m1 0h1m1 0h1m3 0h1m2 0h2m1 0h2m13 0h1m-96 1h43m1 0h7m1 0h2m1 0h2m1 0h1m1 0h1m6 0h1m2 0h1m3 0h2m7 0h1m-84 1h40m1 0h3m1 0h3m2 0h3m1 0h1m5 0h3m4 0h1m4 0h1m5 0h1m-79 1h35m1 0h7m1 0h6m1 0h4m1 0h1m2 0h7m1 0h1m5 0h1m1 0h1m-75 1h45m1 0h1m2 0h1m2 0h1m3 0h1m1 0h1m1 0h1m10 0h1m1 0h1m-75 1h34m1 0h5m1 0h1m1 0h2m1 0h1m6 0h4m1 0h2m2 0h1m2 0h2m10 0h1m6 0h1m-85 1h38m1 0h8m4 0h1m2 0h1m3 0h2m1 0h1m1 0h1m1 0h1m2 0h1m-68 1h49m1 0h2m1 0h1m2 0h1m2 0h1m2 0h1m1 0h1m1 0h1m-68 1h35m3 0h2m1 0h2m2 0h1m1 0h1m2 0h3m6 0h2m1 0h4m1 0h1m5 0h1m-74 1h22m1 0h13m1 0h7m1 0h3m2 0h2m3 0h1m4 0h3m1 0h1m23 0h1m-89 1h35m1 0h1m1 0h2m1 0h1m3 0h1m2 0h1m1 0h1m1 0h1m1 0h1m2 0h1m1 0h2m1 0h2m3 0h1m4 0h1m-73 1h29m1 0h5m1 0h1m1 0h1m1 0h1m2 0h3m4 0h1m2 0h1m2 0h2m1 0h1m2 0h1m4 0h1m-68 1h2m1 0h28m1 0h3m1 0h1m1 0h4m3 0h2m4 0h2m1 0h1m2 0h1m2 0h2m12 0h1m-75 1h23m1 0h8m1 0h5m5 0h1m1 0h1m8 0h1m1 0h4m3 0h1m2 0h3m5 0h1m-75 1h22m1 0h1m1 0h1m1 0h12m2 0h2m2 0h1m3 0h3m1 0h10m2 0h2m2 0h1m-70 1h4m2 0h11m1 0h2m1 0h5m1 0h1m2 0h5m1 0h4m2 0h1m1 0h2m1 0h2m3 0h1m1 0h1m3 0h2m3 0h1m2 0h1m1 0h1m-69 1h33m2 0h2m3 0h1m1 0h1m1 0h1m11 0h2m1 0h1m4 0h2m3 0h1m-70 1h23m1 0h2m1 0h3m1 0h4m1 0h1m1 0h3m1 0h1m1 0h4m2 0h1m1 0h2m4 0h3m1 0h2m7 0h1m-72 1h2m1 0h5m1 0h9m1 0h5m1 0h7m1 0h1m2 0h2m1 0h1m1 0h3m5 0h2m1 0h2m6 0h1m1 0h2m2 0h1m-67 1h1m2 0h10m1 0h3m1 0h11m1 0h2m1 0h4m2 0h3m7 0h1m5 0h1m3 0h9m1 0h1m-68 1h8m1 0h12m3 0h3m1 0h4m2 0h1m5 0h1m4 0h3m6 0h3m1 0h1m3 0h1m1 0h1m-65 1h2m2 0h2m2 0h3m1 0h5m1 0h5m1 0h3m1 0h1m2 0h3m1 0h2m1 0h2m6 0h1m2 0h1m5 0h2m1 0h2m1 0h1m1 0h1m3 0h1m1 0h1m-72 1h1m1 0h5m2 0h2m2 0h5m1 0h12m1 0h2m1 0h2m2 0h1m1 0h1m4 0h2m4 0h1m1 0h2m5 0h1m1 0h2m1 0h1m-67 1h1m1 0h6m1 0h2m1 0h5m1 0h4m1 0h2m2 0h2m2 0h2m5 0h1m1 0h1m13 0h1m5 0h1m3 0h1m5 0h1m-69 1h10m1 0h1m3 0h14m1 0h2m3 0h1m3 0h1m1 0h1m6 0h1m4 0h1m2 0h2m2 0h2m6 0h1m-70 1h2m1 0h2m1 0h1m4 0h7m1 0h7m1 0h3m1 0h1m1 0h3m1 0h1m1 0h1m2 0h1m4 0h2m2 0h1m2 0h1m1 0h1m5 0h1m3 0h1m-68 1h4m1 0h2m1 0h4m1 0h3m1 0h4m2 0h4m1 0h2m2 0h1m2 0h1m2 0h4m2 0h1m7 0h1m1 0h2m2 0h1m2 0h1m-62 1h1m2 0h1m7 0h9m1 0h1m1 0h1m1 0h4m1 0h1m2 0h1m2 0h1m1 0h1m8 0h2m7 0h1m3 0h1m3 0h1m1 0h1m-64 1h1m2 0h1m1 0h5m1 0h1m1 0h3m1 0h11m4 0h1m2 0h2m2 0h1m9 0h1m2 0h2m16 0h1m-71 1h1m3 0h1m4 0h2m1 0h1m1 0h6m1 0h3m1 0h4m1 0h1m2 0h1m2 0h1m2 0h1m2 0h1m14 0h2m4 0h1m-67 1h1m4 0h2m1 0h1m2 0h4m1 0h1m1 0h2m1 0h4m2 0h2m1 0h3m4 0h1m1 0h3m1 0h1m3 0h1m1 0h1m12 0h1m-63 1h1m4 0h1m2 0h5m2 0h4m2 0h9m3 0h2m2 0h1m4 0h1m1 0h2m24 0h1m-71 1h1m2 0h1m3 0h2m1 0h1m4 0h1m2 0h2m1 0h1m1 0h3m8 0h1m2 0h1m1 0h2m4 0h2m3 0h1m2 0h1m9 0h1m-58 1h1m5 0h1m8 0h1m2 0h1m1 0h1m3 0h1m2 0h1m3 0h1m3 0h1m26 0h1m21 0h1m-91 1h1m2 0h1m2 0h3m1 0h2m1 0h1m1 0h4m1 0h1m1 0h1m3 0h1m3 0h1m3 0h1m1 0h1m3 0h1m3 0h1m15 0h1m2 0h1m3 0h1m2 0h1m-70 1h1m6 0h1m4 0h2m2 0h1m1 0h1m2 0h1m1 0h1m1 0h4m3 0h1m3 0h1m1 0h1m7 0h1m4 0h2m1 0h1m3 0h1m-56 1h1m3 0h1m1 0h1m1 0h1m1 0h1m3 0h1m9 0h2m1 0h1m6 0h2m5 0h1m11 0h2m-56 1h1m7 0h1m1 0h1m1 0h1m1 0h1m4 0h3m2 0h1m2 0h1m1 0h1m3 0h1m14 0h1m8 0h1m-48 1h1m2 0h1m1 0h1m3 0h1m2 0h1m1 0h1m2 0h1m7 0h2m1 0h1m8 0h1m-37 1h1m10 0h1m-19 1h1m2 0h1m2 0h1m7 0h1m3 0h1m1 0h2m13 0h2m4 0h1m-40 1h1m11 0h1m3 0h1m2 0h1m-3 1h1m-20 1h1m14 0h1m3 0h1m1 0h1m-23 2h1m10 0h1m2 0h1m2 0h2m-1 1h1m7 0h1m-16 1h1m-6 1h1m5 0h2m3 0h1m6 0h1m5 0h1m-31 1h2m9 0h1m6 0h1m-14 1h1m10 0h1m-10 1h1m20 0h1m3 1h1m-37 1h1m-1 1h1m6 0h1m1 0h1m4 0h1m2 0h2m2 0h1m25 0h1m-35 1h1m3 0h1m3 0h1m1 0h1m5 0h1m5 0h1m-36 1h1m2 0h1m6 0h1m3 0h1m10 0h1m-19 1h1m4 0h1m4 0h1m4 0h1m2 0h1m7 0h2m8 0h1m9 0h1m-45 1h1m3 0h1m4 0h1m2 0h1m17 0h1m-35 1h1m14 0h2m1 0h1m1 0h1m-17 1h1m1 0h1m1 0h1m2 0h1m1 0h1m3 0h1m3 0h1m1 0h1m6 0h1m-28 1h1m5 0h1m1 0h1m7 0h1m3 0h1m7 0h1m-36 1h1m5 0h2m2 0h2m1 0h1m2 0h1m1 0h3m1 0h1m22 0h1m-48 1h1m8 0h1m1 0h1m5 0h1m7 0h1m1 0h1m16 0h1m-42 1h1m2 0h1m4 0h1m6 0h1m3 0h1m14 0h1m2 0h1m7 0h1m-40 1h1m2 0h1m6 0h2m1 0h3m11 0h1m-32 1h1m5 0h1m10 0h1m4 0h2m1 0h1m14 0h1m-46 1h2m6 0h1m2 0h1m5 0h2m1 0h1m2 0h1m4 0h2m15 0h1m2 0h1m-50 1h1m8 0h2m5 0h2m1 0h1m17 0h1m-37 1h1m2 0h1m3 0h1m1 0h1m3 0h2m1 0h1m2 0h2m1 0h1m2 0h1m7 0h1m1 0h1m1 0h1m3 0h1m2 0h1m-45 1h1m1 0h1m7 0h3m3 0h1m1 0h1m11 0h1m1 0h1m1 0h1m2 0h1m-28 1h1m1 0h1m4 0h3m6 0h1m-28 1h1m4 0h1m2 0h1m2 0h1m9 0h1m1 0h2m17 0h1m4 0h1m-42 1h1m4 0h2m1 0h1m3 0h2m6 0h1m-26 1h1m3 0h1m3 0h1m2 0h1m1 0h1m3 0h2m3 0h2m4 0h1m4 0h1m-29 1h1m2 0h1m1 0h1m1 0h3m12 0h1m-22 1h1m5 0h2m4 0h2m7 0h1m11 0h1m-40 1h1m3 0h1m11 0h1m6 0h1m1 0h1m-23 1h1m7 0h1m2 0h2m2 0h2m6 0h1m2 0h1m6 0h1m-30 1h1m1 0h1m7 0h1m4 0h1m-24 1h1m13 0h1m5 0h1m10 0h3m-25 1h1m9 0h1m22 0h1m1 0h1m3 0h1m-20 1h2m4 0h1m-29 1h1m3 0h1m14 0h2m5 0h1m-32 1h1m7 0h1m9 0h2m1 0h1m9 0h1m-24 1h1m8 0h1m13 0h1m15 0h2m-22 1h1m13 0h1m-6 3h1m2 1h1m-1 3h1m-13 4h1m-4 1h1m-3 3h1" stroke="#000" stroke-width="1" fill="none" shape-rendering="crispEdges"/>
<line x1="0.00" y1="785.40" x2="5.60" y2="785.40" stroke-width="1.3"/>
<g transform="rotate(0.3 42.1 216.2)">
<line x1="42.10" y1="34.80" x2="42.10" y2="216.90" stroke-width="1.4"/>
<line x1="41.40" y1="216.20" x2="222.00" y2="216.20" stroke-width="1.4"/>
<line x1="39.30" y1="34.80" x2="44.70" y2="34.80" stroke-width="1.3"/>
<line x1="222.00" y1="214.00" x2="222.00" y2="219.60" stroke-width="1.5"/>
<line x1="39.60" y1="202.55" x2="42.10" y2="202.55" stroke-width="1.0"/>
<line x1="39.60" y1="194.56" x2="42.10" y2="194.56" stroke-width="1.0"/>
<line x1="39.60" y1="188.90" x2="42.10" y2="188.90" stroke-width="1.0"/>
<line x1="39.60" y1="184.50" x2="42.10" y2="184.50" stroke-width="1.0"/>
<line x1="39.60" y1="180.91" x2="42.10" y2="180.91" stroke-width="1.0"/>
<line x1="39.60" y1="177.87" x2="42.10" y2="177.87" stroke-width="1.0"/>
<line x1="39.60" y1="175.24" x2="42.10" y2="175.24" stroke-width="1.0"/>
<line x1="39.60" y1="172.93" x2="42.10" y2="172.93" stroke-width="1.0"/>
<line x1="39.20" y1="170.85" x2="44.60" y2="170.85" stroke-width="1.2"/>
<line x1="39.60" y1="157.20" x2="42.10" y2="157.20" stroke-width="1.0"/>
<line x1="39.60" y1="149.21" x2="42.10" y2="149.21" stroke-width="1.0"/>
<line x1="39.60" y1="143.55" x2="42.10" y2="143.55" stroke-width="1.0"/>
<line x1="39.60" y1="139.15" x2="42.10" y2="139.15" stroke-width="1.0"/>
<line x1="39.60" y1="135.56" x2="42.10" y2="135.56" stroke-width="1.0"/>
<line x1="39.60" y1="132.52" x2="42.10" y2="132.52" stroke-width="1.0"/>
<line x1="39.60" y1="129.89" x2="42.10" y2="129.89" stroke-width="1.0"/>
<line x1="39.60" y1="127.58" x2="42.10" y2="127.58" stroke-width="1.0"/>
<line x1="39.20" y1="125.50" x2="44.60" y2="125.50" stroke-width="1.2"/>
<line x1="39.60" y1="111.85" x2="42.10" y2="111.85" stroke-width="1.0"/>
<line x1="39.60" y1="103.86" x2="42.10" y2="103.86" stroke-width="1.0"/>
<line x1="39.60" y1="98.20" x2="42.10" y2="98.20" stroke-width="1.0"/>
<line x1="39.60" y1="93.80" x2="42.10" y2="93.80" stroke-width="1.0"/>
<line x1="39.60" y1="90.21" x2="42.10" y2="90.21" stroke-width="1.0"/>
<line x1="39.60" y1="87.17" x2="42.10" y2="87.17" stroke-width="1.0"/>
<line x1="39.60" y1="84.54" x2="42.10" y2="84.54" stroke-width="1.0"/>
<line x1="39.60" y1="82.23" x2="42.10" y2="82.23" stroke-width="1.0"/>
<line x1="39.20" y1="80.15" x2="44.60" y2="80.15" stroke-width="1.2"/>
<line x1="39.60" y1="66.50" x2="42.10" y2="66.50" stroke-width="1.0"/>
<line x1="39.60" y1="58.51" x2="42.10" y2="58.51" stroke-width="1.0"/>
<line x1="39.60" y1="52.85" x2="42.10" y2="52.85" stroke-width="1.0"/>
<line x1="39.60" y1="48.45" x2="42.10" y2="48.45" stroke-width="1.0"/>
<line x1="39.60" y1="44.86" x2="42.10" y2="44.86" stroke-width="1.0"/>
<line x1="39.60" y1="41.82" x2="42.10" y2="41.82" stroke-width="1.0"/>
<line x1="39.60" y1="39.19" x2="42.10" y2="39.19" stroke-width="1.0"/>
<line x1="39.60" y1="36.88" x2="42.10" y2="36.88" stroke-width="1.0"/>
<line x1="55.64" y1="216.20" x2="55.64" y2="218.60" stroke-width="1.0"/>
<line x1="63.56" y1="216.20" x2="63.56" y2="218.60" stroke-width="1.0"/>
<line x1="69.18" y1="216.20" x2="69.18" y2="218.60" stroke-width="1.0"/>
<line x1="73.54" y1="216.20" x2="73.54" y2="218.60" stroke-width="1.0"/>
<line x1="77.10" y1="216.20" x2="77.10" y2="218.60" stroke-width="1.0"/>
<line x1="80.11" y1="216.20" x2="80.11" y2="218.60" stroke-width="1.0"/>
<line x1="82.72" y1="216.20" x2="82.72" y2="218.60" stroke-width="1.0"/>
<line x1="85.02" y1="216.20" x2="85.02" y2="218.60" stroke-width="1.0"/>
<line x1="87.08" y1="214.00" x2="87.08" y2="219.50" stroke-width="1.3"/>
<line x1="100.61" y1="216.20" x2="100.61" y2="218.60" stroke-width="1.0"/>
<line x1="108.53" y1="216.20" x2="108.53" y2="218.60" stroke-width="1.0"/>
<line x1="114.15" y1="216.20" x2="114.15" y2="218.60" stroke-width="1.0"/>
<line x1="118.51" y1="216.20" x2="118.51" y2="218.60" stroke-width="1.0"/>
<line x1="122.07" y1="216.20" x2="122.07" y2="218.60" stroke-width="1.0"/>
<line x1="125.08" y1="216.20" x2="125.08" y2="218.60" stroke-width="1.0"/>
<line x1="127.69" y1="216.20" x2="127.69" y2="218.60" stroke-width="1.0"/>
<line x1="129.99" y1="216.20" x2="129.99" y2="218.60" stroke-width="1.0"/>
<line x1="132.05" y1="214.00" x2="132.05" y2="219.50" stroke-width="1.3"/>
<line x1="145.59" y1="216.20" x2="145.59" y2="218.60" stroke-width="1.0"/>
<line x1="153.51" y1="216.20" x2="153.51" y2="218.60" stroke-width="1.0"/>
<line x1="159.13" y1="216.20" x2="159.13" y2="218.60" stroke-width="1.0"/>
<line x1="163.49" y1="216.20" x2="163.49" y2="218.60" stroke-width="1.0"/>
<line x1="167.05" y1="216.20" x2="167.05" y2="218.60" stroke-width="1.0"/>
<line x1="170.06" y1="216.20" x2="170.06" y2="218.60" stroke-width="1.0"/>
<line x1="172.67" y1="216.20" x2="172.67" y2="218.60" stroke-width="1.0"/>
<line x1="174.97" y1="216.20" x2="174.97" y2="218.60" stroke-width="1.0"/>
<line x1="177.03" y1="214.00" x2="177.03" y2="219.50" stroke-width="1.3"/>
<line x1="190.56" y1="216.20" x2="190.56" y2="218.60" stroke-width="1.0"/>
<line x1="198.48" y1="216.20" x2="198.48" y2="218.60" stroke-width="1.0"/>
<line x1="204.10" y1="216.20" x2="204.10" y2="218.60" stroke-width="1.0"/>
<line x1="208.46" y1="216.20" x2="208.46" y2="218.60" stroke-width="1.0"/>
<line x1="212.02" y1="216.20" x2="212.02" y2="218.60" stroke-width="1.0"/>
<line x1="215.03" y1="216.20" x2="215.03" y2="218.60" stroke-width="1.0"/>
<line x1="217.64" y1="216.20" x2="217.64" y2="218.60" stroke-width="1.0"/>
<line x1="219.94" y1="216.20" x2="219.94" y2="218.60" stroke-width="1.0"/>
<line x1="95.65" y1="34.80" x2="95.65" y2="216.20" stroke-width="1.3"/>
<line x1="42.10" y1="162.80" x2="222.60" y2="162.80" stroke-width="1.3"/>
</g>
<text transform="translate(2.34,21.20) scale(1.0197759987061297,1)" font-size="26.16" letter-spacing="0.000">A</text>
<text transform="translate(17.95,175.15) scale(0.84,1)" font-size="12.21" letter-spacing="0.189">10</text>
<text transform="translate(30.86,170.45) scale(1.0,1)" font-size="10.17" letter-spacing="0.000">1</text>
<text transform="translate(17.95,129.80) scale(0.84,1)" font-size="12.21" letter-spacing="0.189">10</text>
<text transform="translate(31.15,125.10) scale(1.0,1)" font-size="10.17" letter-spacing="0.000">2</text>
<text transform="translate(17.95,84.45) scale(0.84,1)" font-size="12.21" letter-spacing="0.189">10</text>
<text transform="translate(31.27,79.75) scale(1.0,1)" font-size="10.17" letter-spacing="0.000">3</text>
<text transform="translate(17.95,40.60) scale(0.84,1)" font-size="12.21" letter-spacing="0.189">10</text>
<text transform="translate(31.35,35.90) scale(1.0,1)" font-size="10.17" letter-spacing="0.000">4</text>
<text transform="translate(35.22,233.30) scale(0.84,1)" font-size="12.94" letter-spacing="-0.067">10</text>
<text transform="translate(48.30,228.90) scale(1.0,1)" font-size="10.17" letter-spacing="0.000">0</text>
<text transform="translate(80.19,233.30) scale(0.84,1)" font-size="12.94" letter-spacing="-0.067">10</text>
<text transform="translate(93.03,228.90) scale(1.0,1)" font-size="10.17" letter-spacing="0.000">1</text>
<text transform="translate(125.17,233.30) scale(0.84,1)" font-size="12.94" letter-spacing="-0.067">10</text>
<text transform="translate(138.30,228.90) scale(1.0,1)" font-size="10.17" letter-spacing="0.000">2</text>
<text transform="translate(170.14,233.30) scale(0.84,1)" font-size="12.94" letter-spacing="-0.067">10</text>
<text transform="translate(183.39,228.90) scale(1.0,1)" font-size="10.17" letter-spacing="0.000">3</text>
<text transform="translate(215.12,233.30) scale(0.84,1)" font-size="12.94" letter-spacing="-0.067">10</text>
<text transform="translate(228.45,228.90) scale(1.0,1)" font-size="10.17" letter-spacing="0.000">4</text>
<text transform="translate(15.90,155.17) rotate(-90) scale(0.88,1)" font-size="12.94" letter-spacing="0.532">CD19 APC</text>
<text transform="translate(104.33,251.00) scale(0.88,1)" font-size="13.08" letter-spacing="0.778">IgM FITC</text>
<text transform="translate(44.88,46.60) scale(0.84,1)" font-size="12.06" letter-spacing="1.385">86.73%</text>
<text transform="translate(183.96,46.60) scale(0.84,1)" font-size="12.06" letter-spacing="0.985">10.47%</text>
<text transform="translate(45.35,208.10) scale(0.84,1)" font-size="12.06" letter-spacing="1.483">2.76%</text>
<text transform="translate(188.50,208.40) scale(0.84,1)" font-size="12.06" letter-spacing="1.141">0.04%</text>
<g transform="rotate(0.06 324.4 219.5)">
<line x1="324.40" y1="37.70" x2="324.40" y2="220.20" stroke-width="1.4"/>
<line x1="323.70" y1="219.50" x2="505.00" y2="219.50" stroke-width="1.4"/>
<line x1="321.60" y1="37.70" x2="327.00" y2="37.70" stroke-width="1.3"/>
<line x1="505.00" y1="217.30" x2="505.00" y2="222.90" stroke-width="1.5"/>
<line x1="321.90" y1="205.82" x2="324.40" y2="205.82" stroke-width="1.0"/>
<line x1="321.90" y1="197.81" x2="324.40" y2="197.81" stroke-width="1.0"/>
<line x1="321.90" y1="192.14" x2="324.40" y2="192.14" stroke-width="1.0"/>
<line x1="321.90" y1="187.73" x2="324.40" y2="187.73" stroke-width="1.0"/>
<line x1="321.90" y1="184.13" x2="324.40" y2="184.13" stroke-width="1.0"/>
<line x1="321.90" y1="181.09" x2="324.40" y2="181.09" stroke-width="1.0"/>
<line x1="321.90" y1="178.45" x2="324.40" y2="178.45" stroke-width="1.0"/>
<line x1="321.90" y1="176.13" x2="324.40" y2="176.13" stroke-width="1.0"/>
<line x1="321.50" y1="174.05" x2="326.90" y2="174.05" stroke-width="1.2"/>
<line x1="321.90" y1="160.37" x2="324.40" y2="160.37" stroke-width="1.0"/>
<line x1="321.90" y1="152.36" x2="324.40" y2="152.36" stroke-width="1.0"/>
<line x1="321.90" y1="146.69" x2="324.40" y2="146.69" stroke-width="1.0"/>
<line x1="321.90" y1="142.28" x2="324.40" y2="142.28" stroke-width="1.0"/>
<line x1="321.90" y1="138.68" x2="324.40" y2="138.68" stroke-width="1.0"/>
<line x1="321.90" y1="135.64" x2="324.40" y2="135.64" stroke-width="1.0"/>
<line x1="321.90" y1="133.00" x2="324.40" y2="133.00" stroke-width="1.0"/>
<line x1="321.90" y1="130.68" x2="324.40" y2="130.68" stroke-width="1.0"/>
<line x1="321.50" y1="128.60" x2="326.90" y2="128.60" stroke-width="1.2"/>
<line x1="321.90" y1="114.92" x2="324.40" y2="114.92" stroke-width="1.0"/>
<line x1="321.90" y1="106.91" x2="324.40" y2="106.91" stroke-width="1.0"/>
<line x1="321.90" y1="101.24" x2="324.40" y2="101.24" stroke-width="1.0"/>
<line x1="321.90" y1="96.83" x2="324.40" y2="96.83" stroke-width="1.0"/>
<line x1="321.90" y1="93.23" x2="324.40" y2="93.23" stroke-width="1.0"/>
<line x1="321.90" y1="90.19" x2="324.40" y2="90.19" stroke-width="1.0"/>
<line x1="321.90" y1="87.55" x2="324.40" y2="87.55" stroke-width="1.0"/>
<line x1="321.90" y1="85.23" x2="324.40" y2="85.23" stroke-width="1.0"/>
<line x1="321.50" y1="83.15" x2="326.90" y2="83.15" stroke-width="1.2"/>
<line x1="321.90" y1="69.47" x2="324.40" y2="69.47" stroke-width="1.0"/>
<line x1="321.90" y1="61.46" x2="324.40" y2="61.46" stroke-width="1.0"/>
<line x1="321.90" y1="55.79" x2="324.40" y2="55.79" stroke-width="1.0"/>
<line x1="321.90" y1="51.38" x2="324.40" y2="51.38" stroke-width="1.0"/>
<line x1="321.90" y1="47.78" x2="324.40" y2="47.78" stroke-width="1.0"/>
<line x1="321.90" y1="44.74" x2="324.40" y2="44.74" stroke-width="1.0"/>
<line x1="321.90" y1="42.10" x2="324.40" y2="42.10" stroke-width="1.0"/>
<line x1="321.90" y1="39.78" x2="324.40" y2="39.78" stroke-width="1.0"/>
<line x1="337.99" y1="219.50" x2="337.99" y2="221.90" stroke-width="1.0"/>
<line x1="345.94" y1="219.50" x2="345.94" y2="221.90" stroke-width="1.0"/>
<line x1="351.58" y1="219.50" x2="351.58" y2="221.90" stroke-width="1.0"/>
<line x1="355.96" y1="219.50" x2="355.96" y2="221.90" stroke-width="1.0"/>
<line x1="359.53" y1="219.50" x2="359.53" y2="221.90" stroke-width="1.0"/>
<line x1="362.56" y1="219.50" x2="362.56" y2="221.90" stroke-width="1.0"/>
<line x1="365.17" y1="219.50" x2="365.17" y2="221.90" stroke-width="1.0"/>
<line x1="367.48" y1="219.50" x2="367.48" y2="221.90" stroke-width="1.0"/>
<line x1="369.55" y1="217.30" x2="369.55" y2="222.80" stroke-width="1.3"/>
<line x1="383.14" y1="219.50" x2="383.14" y2="221.90" stroke-width="1.0"/>
<line x1="391.09" y1="219.50" x2="391.09" y2="221.90" stroke-width="1.0"/>
<line x1="396.73" y1="219.50" x2="396.73" y2="221.90" stroke-width="1.0"/>
<line x1="401.11" y1="219.50" x2="401.11" y2="221.90" stroke-width="1.0"/>
<line x1="404.68" y1="219.50" x2="404.68" y2="221.90" stroke-width="1.0"/>
<line x1="407.71" y1="219.50" x2="407.71" y2="221.90" stroke-width="1.0"/>
<line x1="410.32" y1="219.50" x2="410.32" y2="221.90" stroke-width="1.0"/>
<line x1="412.63" y1="219.50" x2="412.63" y2="221.90" stroke-width="1.0"/>
<line x1="414.70" y1="217.30" x2="414.70" y2="222.80" stroke-width="1.3"/>
<line x1="428.29" y1="219.50" x2="428.29" y2="221.90" stroke-width="1.0"/>
<line x1="436.24" y1="219.50" x2="436.24" y2="221.90" stroke-width="1.0"/>
<line x1="441.88" y1="219.50" x2="441.88" y2="221.90" stroke-width="1.0"/>
<line x1="446.26" y1="219.50" x2="446.26" y2="221.90" stroke-width="1.0"/>
<line x1="449.83" y1="219.50" x2="449.83" y2="221.90" stroke-width="1.0"/>
<line x1="452.86" y1="219.50" x2="452.86" y2="221.90" stroke-width="1.0"/>
<line x1="455.47" y1="219.50" x2="455.47" y2="221.90" stroke-width="1.0"/>
<line x1="457.78" y1="219.50" x2="457.78" y2="221.90" stroke-width="1.0"/>
<line x1="459.85" y1="217.30" x2="459.85" y2="222.80" stroke-width="1.3"/>
<line x1="473.44" y1="219.50" x2="473.44" y2="221.90" stroke-width="1.0"/>
<line x1="481.39" y1="219.50" x2="481.39" y2="221.90" stroke-width="1.0"/>
<line x1="487.03" y1="219.50" x2="487.03" y2="221.90" stroke-width="1.0"/>
<line x1="491.41" y1="219.50" x2="491.41" y2="221.90" stroke-width="1.0"/>
<line x1="494.98" y1="219.50" x2="494.98" y2="221.90" stroke-width="1.0"/>
<line x1="498.01" y1="219.50" x2="498.01" y2="221.90" stroke-width="1.0"/>
<line x1="500.62" y1="219.50" x2="500.62" y2="221.90" stroke-width="1.0"/>
<line x1="502.93" y1="219.50" x2="502.93" y2="221.90" stroke-width="1.0"/>
<line x1="369.30" y1="37.70" x2="369.30" y2="219.50" stroke-width="1.3"/>
<line x1="324.40" y1="161.10" x2="505.60" y2="161.10" stroke-width="1.3"/>
</g>
<text transform="translate(283.51,19.80) scale(0.9493321433102787,1)" font-size="26.60" letter-spacing="0.000">B</text>
<text transform="translate(300.25,178.35) scale(0.84,1)" font-size="12.21" letter-spacing="0.189">10</text>
<text transform="translate(313.16,173.65) scale(1.0,1)" font-size="10.17" letter-spacing="0.000">1</text>
<text transform="translate(300.25,132.90) scale(0.84,1)" font-size="12.21" letter-spacing="0.189">10</text>
<text transform="translate(313.45,128.20) scale(1.0,1)" font-size="10.17" letter-spacing="0.000">2</text>
<text transform="translate(300.25,87.45) scale(0.84,1)" font-size="12.21" letter-spacing="0.189">10</text>
<text transform="translate(313.57,82.75) scale(1.0,1)" font-size="10.17" letter-spacing="0.000">3</text>
<text transform="translate(300.25,43.50) scale(0.84,1)" font-size="12.21" letter-spacing="0.189">10</text>
<text transform="translate(313.65,38.80) scale(1.0,1)" font-size="10.17" letter-spacing="0.000">4</text>
<text transform="translate(317.52,236.60) scale(0.84,1)" font-size="12.94" letter-spacing="-0.067">10</text>
<text transform="translate(330.60,232.20) scale(1.0,1)" font-size="10.17" letter-spacing="0.000">0</text>
<text transform="translate(362.67,236.60) scale(0.84,1)" font-size="12.94" letter-spacing="-0.067">10</text>
<text transform="translate(375.51,232.20) scale(1.0,1)" font-size="10.17" letter-spacing="0.000">1</text>
<text transform="translate(407.82,236.60) scale(0.84,1)" font-size="12.94" letter-spacing="-0.067">10</text>
<text transform="translate(420.95,232.20) scale(1.0,1)" font-size="10.17" letter-spacing="0.000">2</text>
<text transform="translate(452.97,236.60) scale(0.84,1)" font-size="12.94" letter-spacing="-0.067">10</text>
<text transform="translate(466.22,232.20) scale(1.0,1)" font-size="10.17" letter-spacing="0.000">3</text>
<text transform="translate(498.12,236.60) scale(0.84,1)" font-size="12.94" letter-spacing="-0.067">10</text>
<text transform="translate(511.45,232.20) scale(1.0,1)" font-size="10.17" letter-spacing="0.000">4</text>
<text transform="translate(296.30,156.87) rotate(-90) scale(0.88,1)" font-size="13.08" letter-spacing="0.349">CD19 APC</text>
<text transform="translate(386.45,253.50) scale(0.88,1)" font-size="12.79" letter-spacing="0.982">IgM FITC</text>
<text transform="translate(326.88,49.10) scale(0.84,1)" font-size="12.06" letter-spacing="1.385">80.10%</text>
<text transform="translate(466.46,49.10) scale(0.84,1)" font-size="12.06" letter-spacing="0.985">17.46%</text>
<text transform="translate(327.85,210.90) scale(0.84,1)" font-size="12.06" letter-spacing="1.335">2.36%</text>
<text transform="translate(471.00,211.10) scale(0.84,1)" font-size="12.06" letter-spacing="1.230">0.08%</text>
<g transform="rotate(0.16 40.6 487.7)">
<line x1="40.60" y1="305.50" x2="40.60" y2="488.40" stroke-width="1.4"/>
<line x1="39.90" y1="487.70" x2="220.60" y2="487.70" stroke-width="1.4"/>
<line x1="37.80" y1="305.50" x2="43.20" y2="305.50" stroke-width="1.3"/>
<line x1="220.60" y1="485.50" x2="220.60" y2="491.10" stroke-width="1.5"/>
<line x1="38.10" y1="473.99" x2="40.60" y2="473.99" stroke-width="1.0"/>
<line x1="38.10" y1="465.97" x2="40.60" y2="465.97" stroke-width="1.0"/>
<line x1="38.10" y1="460.28" x2="40.60" y2="460.28" stroke-width="1.0"/>
<line x1="38.10" y1="455.86" x2="40.60" y2="455.86" stroke-width="1.0"/>
<line x1="38.10" y1="452.26" x2="40.60" y2="452.26" stroke-width="1.0"/>
<line x1="38.10" y1="449.21" x2="40.60" y2="449.21" stroke-width="1.0"/>
<line x1="38.10" y1="446.56" x2="40.60" y2="446.56" stroke-width="1.0"/>
<line x1="38.10" y1="444.23" x2="40.60" y2="444.23" stroke-width="1.0"/>
<line x1="37.70" y1="442.15" x2="43.10" y2="442.15" stroke-width="1.2"/>
<line x1="38.10" y1="428.44" x2="40.60" y2="428.44" stroke-width="1.0"/>
<line x1="38.10" y1="420.42" x2="40.60" y2="420.42" stroke-width="1.0"/>
<line x1="38.10" y1="414.73" x2="40.60" y2="414.73" stroke-width="1.0"/>
<line x1="38.10" y1="410.31" x2="40.60" y2="410.31" stroke-width="1.0"/>
<line x1="38.10" y1="406.71" x2="40.60" y2="406.71" stroke-width="1.0"/>
<line x1="38.10" y1="403.66" x2="40.60" y2="403.66" stroke-width="1.0"/>
<line x1="38.10" y1="401.01" x2="40.60" y2="401.01" stroke-width="1.0"/>
<line x1="38.10" y1="398.68" x2="40.60" y2="398.68" stroke-width="1.0"/>
<line x1="37.70" y1="396.60" x2="43.10" y2="396.60" stroke-width="1.2"/>
<line x1="38.10" y1="382.89" x2="40.60" y2="382.89" stroke-width="1.0"/>
<line x1="38.10" y1="374.87" x2="40.60" y2="374.87" stroke-width="1.0"/>
<line x1="38.10" y1="369.18" x2="40.60" y2="369.18" stroke-width="1.0"/>
<line x1="38.10" y1="364.76" x2="40.60" y2="364.76" stroke-width="1.0"/>
<line x1="38.10" y1="361.16" x2="40.60" y2="361.16" stroke-width="1.0"/>
<line x1="38.10" y1="358.11" x2="40.60" y2="358.11" stroke-width="1.0"/>
<line x1="38.10" y1="355.46" x2="40.60" y2="355.46" stroke-width="1.0"/>
<line x1="38.10" y1="353.13" x2="40.60" y2="353.13" stroke-width="1.0"/>
<line x1="37.70" y1="351.05" x2="43.10" y2="351.05" stroke-width="1.2"/>
<line x1="38.10" y1="337.34" x2="40.60" y2="337.34" stroke-width="1.0"/>
<line x1="38.10" y1="329.32" x2="40.60" y2="329.32" stroke-width="1.0"/>
<line x1="38.10" y1="323.63" x2="40.60" y2="323.63" stroke-width="1.0"/>
<line x1="38.10" y1="319.21" x2="40.60" y2="319.21" stroke-width="1.0"/>
<line x1="38.10" y1="315.61" x2="40.60" y2="315.61" stroke-width="1.0"/>
<line x1="38.10" y1="312.56" x2="40.60" y2="312.56" stroke-width="1.0"/>
<line x1="38.10" y1="309.91" x2="40.60" y2="309.91" stroke-width="1.0"/>
<line x1="38.10" y1="307.58" x2="40.60" y2="307.58" stroke-width="1.0"/>
<line x1="54.15" y1="487.70" x2="54.15" y2="490.10" stroke-width="1.0"/>
<line x1="62.07" y1="487.70" x2="62.07" y2="490.10" stroke-width="1.0"/>
<line x1="67.69" y1="487.70" x2="67.69" y2="490.10" stroke-width="1.0"/>
<line x1="72.05" y1="487.70" x2="72.05" y2="490.10" stroke-width="1.0"/>
<line x1="75.62" y1="487.70" x2="75.62" y2="490.10" stroke-width="1.0"/>
<line x1="78.63" y1="487.70" x2="78.63" y2="490.10" stroke-width="1.0"/>
<line x1="81.24" y1="487.70" x2="81.24" y2="490.10" stroke-width="1.0"/>
<line x1="83.54" y1="487.70" x2="83.54" y2="490.10" stroke-width="1.0"/>
<line x1="85.60" y1="485.50" x2="85.60" y2="491.00" stroke-width="1.3"/>
<line x1="99.15" y1="487.70" x2="99.15" y2="490.10" stroke-width="1.0"/>
<line x1="107.07" y1="487.70" x2="107.07" y2="490.10" stroke-width="1.0"/>
<line x1="112.69" y1="487.70" x2="112.69" y2="490.10" stroke-width="1.0"/>
<line x1="117.05" y1="487.70" x2="117.05" y2="490.10" stroke-width="1.0"/>
<line x1="120.62" y1="487.70" x2="120.62" y2="490.10" stroke-width="1.0"/>
<line x1="123.63" y1="487.70" x2="123.63" y2="490.10" stroke-width="1.0"/>
<line x1="126.24" y1="487.70" x2="126.24" y2="490.10" stroke-width="1.0"/>
<line x1="128.54" y1="487.70" x2="128.54" y2="490.10" stroke-width="1.0"/>
<line x1="130.60" y1="485.50" x2="130.60" y2="491.00" stroke-width="1.3"/>
<line x1="144.15" y1="487.70" x2="144.15" y2="490.10" stroke-width="1.0"/>
<line x1="152.07" y1="487.70" x2="152.07" y2="490.10" stroke-width="1.0"/>
<line x1="157.69" y1="487.70" x2="157.69" y2="490.10" stroke-width="1.0"/>
<line x1="162.05" y1="487.70" x2="162.05" y2="490.10" stroke-width="1.0"/>
<line x1="165.62" y1="487.70" x2="165.62" y2="490.10" stroke-width="1.0"/>
<line x1="168.63" y1="487.70" x2="168.63" y2="490.10" stroke-width="1.0"/>
<line x1="171.24" y1="487.70" x2="171.24" y2="490.10" stroke-width="1.0"/>
<line x1="173.54" y1="487.70" x2="173.54" y2="490.10" stroke-width="1.0"/>
<line x1="175.60" y1="485.50" x2="175.60" y2="491.00" stroke-width="1.3"/>
<line x1="189.15" y1="487.70" x2="189.15" y2="490.10" stroke-width="1.0"/>
<line x1="197.07" y1="487.70" x2="197.07" y2="490.10" stroke-width="1.0"/>
<line x1="202.69" y1="487.70" x2="202.69" y2="490.10" stroke-width="1.0"/>
<line x1="207.05" y1="487.70" x2="207.05" y2="490.10" stroke-width="1.0"/>
<line x1="210.62" y1="487.70" x2="210.62" y2="490.10" stroke-width="1.0"/>
<line x1="213.63" y1="487.70" x2="213.63" y2="490.10" stroke-width="1.0"/>
<line x1="216.24" y1="487.70" x2="216.24" y2="490.10" stroke-width="1.0"/>
<line x1="218.54" y1="487.70" x2="218.54" y2="490.10" stroke-width="1.0"/>
<line x1="94.20" y1="305.50" x2="94.20" y2="487.70" stroke-width="1.3"/>
<line x1="40.60" y1="433.80" x2="221.20" y2="433.80" stroke-width="1.3"/>
</g>
<text transform="translate(0.57,289.00) scale(0.9482063865932424,1)" font-size="26.45" letter-spacing="0.000">C</text>
<text transform="translate(16.45,446.45) scale(0.84,1)" font-size="12.21" letter-spacing="0.189">10</text>
<text transform="translate(29.36,441.75) scale(1.0,1)" font-size="10.17" letter-spacing="0.000">1</text>
<text transform="translate(16.45,400.90) scale(0.84,1)" font-size="12.21" letter-spacing="0.189">10</text>
<text transform="translate(29.65,396.20) scale(1.0,1)" font-size="10.17" letter-spacing="0.000">2</text>
<text transform="translate(16.45,355.35) scale(0.84,1)" font-size="12.21" letter-spacing="0.189">10</text>
<text transform="translate(29.77,350.65) scale(1.0,1)" font-size="10.17" letter-spacing="0.000">3</text>
<text transform="translate(16.45,311.30) scale(0.84,1)" font-size="12.21" letter-spacing="0.189">10</text>
<text transform="translate(29.85,306.60) scale(1.0,1)" font-size="10.17" letter-spacing="0.000">4</text>
<text transform="translate(33.72,504.80) scale(0.84,1)" font-size="12.94" letter-spacing="-0.067">10</text>
<text transform="translate(46.80,500.40) scale(1.0,1)" font-size="10.17" letter-spacing="0.000">0</text>
<text transform="translate(78.72,504.80) scale(0.84,1)" font-size="12.94" letter-spacing="-0.067">10</text>
<text transform="translate(91.56,500.40) scale(1.0,1)" font-size="10.17" letter-spacing="0.000">1</text>
<text transform="translate(123.72,504.80) scale(0.84,1)" font-size="12.94" letter-spacing="-0.067">10</text>
<text transform="translate(136.85,500.40) scale(1.0,1)" font-size="10.17" letter-spacing="0.000">2</text>
<text transform="translate(168.72,504.80) scale(0.84,1)" font-size="12.94" letter-spacing="-0.067">10</text>
<text transform="translate(181.97,500.40) scale(1.0,1)" font-size="10.17" letter-spacing="0.000">3</text>
<text transform="translate(213.72,504.80) scale(0.84,1)" font-size="12.94" letter-spacing="-0.067">10</text>
<text transform="translate(227.05,500.40) scale(1.0,1)" font-size="10.17" letter-spacing="0.000">4</text>
<text transform="translate(12.90,425.56) rotate(-90) scale(0.88,1)" font-size="12.79" letter-spacing="0.617">CD19 APC</text>
<text transform="translate(109.76,521.80) scale(0.88,1)" font-size="12.50" letter-spacing="1.001">IgG PE</text>
<text transform="translate(44.05,317.10) scale(0.84,1)" font-size="12.06" letter-spacing="1.107">90.38%</text>
<text transform="translate(188.03,317.60) scale(0.84,1)" font-size="12.06" letter-spacing="1.281">6.82%</text>
<text transform="translate(43.85,478.90) scale(0.84,1)" font-size="12.06" letter-spacing="1.394">2.78%</text>
<text transform="translate(186.80,479.10) scale(0.84,1)" font-size="12.06" letter-spacing="1.349">0.02%</text>
<g transform="rotate(0.22 322.4 488.6)">
<line x1="322.40" y1="306.70" x2="322.40" y2="489.30" stroke-width="1.4"/>
<line x1="321.70" y1="488.60" x2="503.60" y2="488.60" stroke-width="1.4"/>
<line x1="319.60" y1="306.70" x2="325.00" y2="306.70" stroke-width="1.3"/>
<line x1="503.60" y1="486.40" x2="503.60" y2="492.00" stroke-width="1.5"/>
<line x1="319.90" y1="474.91" x2="322.40" y2="474.91" stroke-width="1.0"/>
<line x1="319.90" y1="466.90" x2="322.40" y2="466.90" stroke-width="1.0"/>
<line x1="319.90" y1="461.22" x2="322.40" y2="461.22" stroke-width="1.0"/>
<line x1="319.90" y1="456.81" x2="322.40" y2="456.81" stroke-width="1.0"/>
<line x1="319.90" y1="453.21" x2="322.40" y2="453.21" stroke-width="1.0"/>
<line x1="319.90" y1="450.17" x2="322.40" y2="450.17" stroke-width="1.0"/>
<line x1="319.90" y1="447.53" x2="322.40" y2="447.53" stroke-width="1.0"/>
<line x1="319.90" y1="445.21" x2="322.40" y2="445.21" stroke-width="1.0"/>
<line x1="319.50" y1="443.12" x2="324.90" y2="443.12" stroke-width="1.2"/>
<line x1="319.90" y1="429.44" x2="322.40" y2="429.44" stroke-width="1.0"/>
<line x1="319.90" y1="421.43" x2="322.40" y2="421.43" stroke-width="1.0"/>
<line x1="319.90" y1="415.75" x2="322.40" y2="415.75" stroke-width="1.0"/>
<line x1="319.90" y1="411.34" x2="322.40" y2="411.34" stroke-width="1.0"/>
<line x1="319.90" y1="407.74" x2="322.40" y2="407.74" stroke-width="1.0"/>
<line x1="319.90" y1="404.69" x2="322.40" y2="404.69" stroke-width="1.0"/>
<line x1="319.90" y1="402.06" x2="322.40" y2="402.06" stroke-width="1.0"/>
<line x1="319.90" y1="399.73" x2="322.40" y2="399.73" stroke-width="1.0"/>
<line x1="319.50" y1="397.65" x2="324.90" y2="397.65" stroke-width="1.2"/>
<line x1="319.90" y1="383.96" x2="322.40" y2="383.96" stroke-width="1.0"/>
<line x1="319.90" y1="375.95" x2="322.40" y2="375.95" stroke-width="1.0"/>
<line x1="319.90" y1="370.27" x2="322.40" y2="370.27" stroke-width="1.0"/>
<line x1="319.90" y1="365.86" x2="322.40" y2="365.86" stroke-width="1.0"/>
<line x1="319.90" y1="362.26" x2="322.40" y2="362.26" stroke-width="1.0"/>
<line x1="319.90" y1="359.22" x2="322.40" y2="359.22" stroke-width="1.0"/>
<line x1="319.90" y1="356.58" x2="322.40" y2="356.58" stroke-width="1.0"/>
<line x1="319.90" y1="354.26" x2="322.40" y2="354.26" stroke-width="1.0"/>
<line x1="319.50" y1="352.18" x2="324.90" y2="352.18" stroke-width="1.2"/>
<line x1="319.90" y1="338.49" x2="322.40" y2="338.49" stroke-width="1.0"/>
<line x1="319.90" y1="330.48" x2="322.40" y2="330.48" stroke-width="1.0"/>
<line x1="319.90" y1="324.80" x2="322.40" y2="324.80" stroke-width="1.0"/>
<line x1="319.90" y1="320.39" x2="322.40" y2="320.39" stroke-width="1.0"/>
<line x1="319.90" y1="316.79" x2="322.40" y2="316.79" stroke-width="1.0"/>
<line x1="319.90" y1="313.74" x2="322.40" y2="313.74" stroke-width="1.0"/>
<line x1="319.90" y1="311.11" x2="322.40" y2="311.11" stroke-width="1.0"/>
<line x1="319.90" y1="308.78" x2="322.40" y2="308.78" stroke-width="1.0"/>
<line x1="336.04" y1="488.60" x2="336.04" y2="491.00" stroke-width="1.0"/>
<line x1="344.01" y1="488.60" x2="344.01" y2="491.00" stroke-width="1.0"/>
<line x1="349.67" y1="488.60" x2="349.67" y2="491.00" stroke-width="1.0"/>
<line x1="354.06" y1="488.60" x2="354.06" y2="491.00" stroke-width="1.0"/>
<line x1="357.65" y1="488.60" x2="357.65" y2="491.00" stroke-width="1.0"/>
<line x1="360.68" y1="488.60" x2="360.68" y2="491.00" stroke-width="1.0"/>
<line x1="363.31" y1="488.60" x2="363.31" y2="491.00" stroke-width="1.0"/>
<line x1="365.63" y1="488.60" x2="365.63" y2="491.00" stroke-width="1.0"/>
<line x1="367.70" y1="486.40" x2="367.70" y2="491.90" stroke-width="1.3"/>
<line x1="381.34" y1="488.60" x2="381.34" y2="491.00" stroke-width="1.0"/>
<line x1="389.31" y1="488.60" x2="389.31" y2="491.00" stroke-width="1.0"/>
<line x1="394.97" y1="488.60" x2="394.97" y2="491.00" stroke-width="1.0"/>
<line x1="399.36" y1="488.60" x2="399.36" y2="491.00" stroke-width="1.0"/>
<line x1="402.95" y1="488.60" x2="402.95" y2="491.00" stroke-width="1.0"/>
<line x1="405.98" y1="488.60" x2="405.98" y2="491.00" stroke-width="1.0"/>
<line x1="408.61" y1="488.60" x2="408.61" y2="491.00" stroke-width="1.0"/>
<line x1="410.93" y1="488.60" x2="410.93" y2="491.00" stroke-width="1.0"/>
<line x1="413.00" y1="486.40" x2="413.00" y2="491.90" stroke-width="1.3"/>
<line x1="426.64" y1="488.60" x2="426.64" y2="491.00" stroke-width="1.0"/>
<line x1="434.61" y1="488.60" x2="434.61" y2="491.00" stroke-width="1.0"/>
<line x1="440.27" y1="488.60" x2="440.27" y2="491.00" stroke-width="1.0"/>
<line x1="444.66" y1="488.60" x2="444.66" y2="491.00" stroke-width="1.0"/>
<line x1="448.25" y1="488.60" x2="448.25" y2="491.00" stroke-width="1.0"/>
<line x1="451.28" y1="488.60" x2="451.28" y2="491.00" stroke-width="1.0"/>
<line x1="453.91" y1="488.60" x2="453.91" y2="491.00" stroke-width="1.0"/>
<line x1="456.23" y1="488.60" x2="456.23" y2="491.00" stroke-width="1.0"/>
<line x1="458.30" y1="486.40" x2="458.30" y2="491.90" stroke-width="1.3"/>
<line x1="471.94" y1="488.60" x2="471.94" y2="491.00" stroke-width="1.0"/>
<line x1="479.91" y1="488.60" x2="479.91" y2="491.00" stroke-width="1.0"/>
<line x1="485.57" y1="488.60" x2="485.57" y2="491.00" stroke-width="1.0"/>
<line x1="489.96" y1="488.60" x2="489.96" y2="491.00" stroke-width="1.0"/>
<line x1="493.55" y1="488.60" x2="493.55" y2="491.00" stroke-width="1.0"/>
<line x1="496.58" y1="488.60" x2="496.58" y2="491.00" stroke-width="1.0"/>
<line x1="499.21" y1="488.60" x2="499.21" y2="491.00" stroke-width="1.0"/>
<line x1="501.53" y1="488.60" x2="501.53" y2="491.00" stroke-width="1.0"/>
<line x1="376.20" y1="306.70" x2="376.20" y2="488.60" stroke-width="1.3"/>
<line x1="322.40" y1="434.60" x2="504.20" y2="434.60" stroke-width="1.3"/>
</g>
<text transform="translate(283.52,290.50) scale(0.9440412794542502,1)" font-size="26.60" letter-spacing="0.000">D</text>
<text transform="translate(298.25,447.43) scale(0.84,1)" font-size="12.21" letter-spacing="0.189">10</text>
<text transform="translate(311.16,442.73) scale(1.0,1)" font-size="10.17" letter-spacing="0.000">1</text>
<text transform="translate(298.25,401.95) scale(0.84,1)" font-size="12.21" letter-spacing="0.189">10</text>
<text transform="translate(311.45,397.25) scale(1.0,1)" font-size="10.17" letter-spacing="0.000">2</text>
<text transform="translate(298.25,356.48) scale(0.84,1)" font-size="12.21" letter-spacing="0.189">10</text>
<text transform="translate(311.57,351.78) scale(1.0,1)" font-size="10.17" letter-spacing="0.000">3</text>
<text transform="translate(298.25,312.50) scale(0.84,1)" font-size="12.21" letter-spacing="0.189">10</text>
<text transform="translate(311.65,307.80) scale(1.0,1)" font-size="10.17" letter-spacing="0.000">4</text>
<text transform="translate(315.52,505.70) scale(0.84,1)" font-size="12.94" letter-spacing="-0.067">10</text>
<text transform="translate(328.60,501.30) scale(1.0,1)" font-size="10.17" letter-spacing="0.000">0</text>
<text transform="translate(360.82,505.70) scale(0.84,1)" font-size="12.94" letter-spacing="-0.067">10</text>
<text transform="translate(373.66,501.30) scale(1.0,1)" font-size="10.17" letter-spacing="0.000">1</text>
<text transform="translate(406.12,505.70) scale(0.84,1)" font-size="12.94" letter-spacing="-0.067">10</text>
<text transform="translate(419.25,501.30) scale(1.0,1)" font-size="10.17" letter-spacing="0.000">2</text>
<text transform="translate(451.42,505.70) scale(0.84,1)" font-size="12.94" letter-spacing="-0.067">10</text>
<text transform="translate(464.67,501.30) scale(1.0,1)" font-size="10.17" letter-spacing="0.000">3</text>
<text transform="translate(496.72,505.70) scale(0.84,1)" font-size="12.94" letter-spacing="-0.067">10</text>
<text transform="translate(510.05,501.30) scale(1.0,1)" font-size="10.17" letter-spacing="0.000">4</text>
<text transform="translate(294.60,425.87) rotate(-90) scale(0.88,1)" font-size="12.94" letter-spacing="0.613">CD19 APC</text>
<text transform="translate(391.76,522.20) scale(0.88,1)" font-size="12.50" letter-spacing="0.887">IgG PE</text>
<text transform="translate(325.85,318.10) scale(0.84,1)" font-size="12.06" letter-spacing="1.154">96.62%</text>
<text transform="translate(471.26,318.60) scale(0.84,1)" font-size="12.06" letter-spacing="1.152">1.35%</text>
<text transform="translate(326.05,479.90) scale(0.84,1)" font-size="12.06" letter-spacing="1.335">2.03%</text>
<text transform="translate(469.70,480.10) scale(0.84,1)" font-size="12.06" letter-spacing="1.320">0.00%</text>
<g transform="rotate(0.1 39.1 756.0)">
<line x1="39.10" y1="574.70" x2="39.10" y2="756.70" stroke-width="1.4"/>
<line x1="38.40" y1="756.00" x2="219.40" y2="756.00" stroke-width="1.4"/>
<line x1="36.30" y1="574.70" x2="41.70" y2="574.70" stroke-width="1.3"/>
<line x1="219.40" y1="753.80" x2="219.40" y2="759.40" stroke-width="1.5"/>
<line x1="36.60" y1="742.36" x2="39.10" y2="742.36" stroke-width="1.0"/>
<line x1="36.60" y1="734.37" x2="39.10" y2="734.37" stroke-width="1.0"/>
<line x1="36.60" y1="728.71" x2="39.10" y2="728.71" stroke-width="1.0"/>
<line x1="36.60" y1="724.32" x2="39.10" y2="724.32" stroke-width="1.0"/>
<line x1="36.60" y1="720.73" x2="39.10" y2="720.73" stroke-width="1.0"/>
<line x1="36.60" y1="717.70" x2="39.10" y2="717.70" stroke-width="1.0"/>
<line x1="36.60" y1="715.07" x2="39.10" y2="715.07" stroke-width="1.0"/>
<line x1="36.60" y1="712.75" x2="39.10" y2="712.75" stroke-width="1.0"/>
<line x1="36.20" y1="710.67" x2="41.60" y2="710.67" stroke-width="1.2"/>
<line x1="36.60" y1="697.03" x2="39.10" y2="697.03" stroke-width="1.0"/>
<line x1="36.60" y1="689.05" x2="39.10" y2="689.05" stroke-width="1.0"/>
<line x1="36.60" y1="683.39" x2="39.10" y2="683.39" stroke-width="1.0"/>
<line x1="36.60" y1="678.99" x2="39.10" y2="678.99" stroke-width="1.0"/>
<line x1="36.60" y1="675.41" x2="39.10" y2="675.41" stroke-width="1.0"/>
<line x1="36.60" y1="672.37" x2="39.10" y2="672.37" stroke-width="1.0"/>
<line x1="36.60" y1="669.74" x2="39.10" y2="669.74" stroke-width="1.0"/>
<line x1="36.60" y1="667.42" x2="39.10" y2="667.42" stroke-width="1.0"/>
<line x1="36.20" y1="665.35" x2="41.60" y2="665.35" stroke-width="1.2"/>
<line x1="36.60" y1="651.71" x2="39.10" y2="651.71" stroke-width="1.0"/>
<line x1="36.60" y1="643.72" x2="39.10" y2="643.72" stroke-width="1.0"/>
<line x1="36.60" y1="638.06" x2="39.10" y2="638.06" stroke-width="1.0"/>
<line x1="36.60" y1="633.67" x2="39.10" y2="633.67" stroke-width="1.0"/>
<line x1="36.60" y1="630.08" x2="39.10" y2="630.08" stroke-width="1.0"/>
<line x1="36.60" y1="627.05" x2="39.10" y2="627.05" stroke-width="1.0"/>
<line x1="36.60" y1="624.42" x2="39.10" y2="624.42" stroke-width="1.0"/>
<line x1="36.60" y1="622.10" x2="39.10" y2="622.10" stroke-width="1.0"/>
<line x1="36.20" y1="620.03" x2="41.60" y2="620.03" stroke-width="1.2"/>
<line x1="36.60" y1="606.38" x2="39.10" y2="606.38" stroke-width="1.0"/>
<line x1="36.60" y1="598.40" x2="39.10" y2="598.40" stroke-width="1.0"/>
<line x1="36.60" y1="592.74" x2="39.10" y2="592.74" stroke-width="1.0"/>
<line x1="36.60" y1="588.34" x2="39.10" y2="588.34" stroke-width="1.0"/>
<line x1="36.60" y1="584.76" x2="39.10" y2="584.76" stroke-width="1.0"/>
<line x1="36.60" y1="581.72" x2="39.10" y2="581.72" stroke-width="1.0"/>
<line x1="36.60" y1="579.09" x2="39.10" y2="579.09" stroke-width="1.0"/>
<line x1="36.60" y1="576.77" x2="39.10" y2="576.77" stroke-width="1.0"/>
<line x1="52.67" y1="756.00" x2="52.67" y2="758.40" stroke-width="1.0"/>
<line x1="60.61" y1="756.00" x2="60.61" y2="758.40" stroke-width="1.0"/>
<line x1="66.24" y1="756.00" x2="66.24" y2="758.40" stroke-width="1.0"/>
<line x1="70.61" y1="756.00" x2="70.61" y2="758.40" stroke-width="1.0"/>
<line x1="74.18" y1="756.00" x2="74.18" y2="758.40" stroke-width="1.0"/>
<line x1="77.19" y1="756.00" x2="77.19" y2="758.40" stroke-width="1.0"/>
<line x1="79.81" y1="756.00" x2="79.81" y2="758.40" stroke-width="1.0"/>
<line x1="82.11" y1="756.00" x2="82.11" y2="758.40" stroke-width="1.0"/>
<line x1="84.18" y1="753.80" x2="84.18" y2="759.30" stroke-width="1.3"/>
<line x1="97.74" y1="756.00" x2="97.74" y2="758.40" stroke-width="1.0"/>
<line x1="105.68" y1="756.00" x2="105.68" y2="758.40" stroke-width="1.0"/>
<line x1="111.31" y1="756.00" x2="111.31" y2="758.40" stroke-width="1.0"/>
<line x1="115.68" y1="756.00" x2="115.68" y2="758.40" stroke-width="1.0"/>
<line x1="119.25" y1="756.00" x2="119.25" y2="758.40" stroke-width="1.0"/>
<line x1="122.27" y1="756.00" x2="122.27" y2="758.40" stroke-width="1.0"/>
<line x1="124.88" y1="756.00" x2="124.88" y2="758.40" stroke-width="1.0"/>
<line x1="127.19" y1="756.00" x2="127.19" y2="758.40" stroke-width="1.0"/>
<line x1="129.25" y1="753.80" x2="129.25" y2="759.30" stroke-width="1.3"/>
<line x1="142.82" y1="756.00" x2="142.82" y2="758.40" stroke-width="1.0"/>
<line x1="150.76" y1="756.00" x2="150.76" y2="758.40" stroke-width="1.0"/>
<line x1="156.39" y1="756.00" x2="156.39" y2="758.40" stroke-width="1.0"/>
<line x1="160.76" y1="756.00" x2="160.76" y2="758.40" stroke-width="1.0"/>
<line x1="164.33" y1="756.00" x2="164.33" y2="758.40" stroke-width="1.0"/>
<line x1="167.34" y1="756.00" x2="167.34" y2="758.40" stroke-width="1.0"/>
<line x1="169.96" y1="756.00" x2="169.96" y2="758.40" stroke-width="1.0"/>
<line x1="172.26" y1="756.00" x2="172.26" y2="758.40" stroke-width="1.0"/>
<line x1="174.33" y1="753.80" x2="174.33" y2="759.30" stroke-width="1.3"/>
<line x1="187.89" y1="756.00" x2="187.89" y2="758.40" stroke-width="1.0"/>
<line x1="195.83" y1="756.00" x2="195.83" y2="758.40" stroke-width="1.0"/>
<line x1="201.46" y1="756.00" x2="201.46" y2="758.40" stroke-width="1.0"/>
<line x1="205.83" y1="756.00" x2="205.83" y2="758.40" stroke-width="1.0"/>
<line x1="209.40" y1="756.00" x2="209.40" y2="758.40" stroke-width="1.0"/>
<line x1="212.42" y1="756.00" x2="212.42" y2="758.40" stroke-width="1.0"/>
<line x1="215.03" y1="756.00" x2="215.03" y2="758.40" stroke-width="1.0"/>
<line x1="217.34" y1="756.00" x2="217.34" y2="758.40" stroke-width="1.0"/>
<line x1="84.30" y1="574.70" x2="84.30" y2="756.00" stroke-width="1.3"/>
<line x1="39.10" y1="711.00" x2="220.00" y2="711.00" stroke-width="1.3"/>
</g>
<text transform="translate(0.53,560.70) scale(0.9432951730601862,1)" font-size="26.45" letter-spacing="0.000">E</text>
<text transform="translate(14.95,714.97) scale(0.84,1)" font-size="12.21" letter-spacing="0.189">10</text>
<text transform="translate(27.86,710.27) scale(1.0,1)" font-size="10.17" letter-spacing="0.000">1</text>
<text transform="translate(14.95,669.65) scale(0.84,1)" font-size="12.21" letter-spacing="0.189">10</text>
<text transform="translate(28.15,664.95) scale(1.0,1)" font-size="10.17" letter-spacing="0.000">2</text>
<text transform="translate(14.95,624.33) scale(0.84,1)" font-size="12.21" letter-spacing="0.189">10</text>
<text transform="translate(28.27,619.62) scale(1.0,1)" font-size="10.17" letter-spacing="0.000">3</text>
<text transform="translate(14.95,580.50) scale(0.84,1)" font-size="12.21" letter-spacing="0.189">10</text>
<text transform="translate(28.35,575.80) scale(1.0,1)" font-size="10.17" letter-spacing="0.000">4</text>
<text transform="translate(32.22,773.10) scale(0.84,1)" font-size="12.94" letter-spacing="-0.067">10</text>
<text transform="translate(45.30,768.70) scale(1.0,1)" font-size="10.17" letter-spacing="0.000">0</text>
<text transform="translate(77.29,773.10) scale(0.84,1)" font-size="12.94" letter-spacing="-0.067">10</text>
<text transform="translate(90.13,768.70) scale(1.0,1)" font-size="10.17" letter-spacing="0.000">1</text>
<text transform="translate(122.37,773.10) scale(0.84,1)" font-size="12.94" letter-spacing="-0.067">10</text>
<text transform="translate(135.50,768.70) scale(1.0,1)" font-size="10.17" letter-spacing="0.000">2</text>
<text transform="translate(167.44,773.10) scale(0.84,1)" font-size="12.94" letter-spacing="-0.067">10</text>
<text transform="translate(180.69,768.70) scale(1.0,1)" font-size="10.17" letter-spacing="0.000">3</text>
<text transform="translate(212.52,773.10) scale(0.84,1)" font-size="12.94" letter-spacing="-0.067">10</text>
<text transform="translate(225.85,768.70) scale(1.0,1)" font-size="10.17" letter-spacing="0.000">4</text>
<text transform="translate(11.50,693.37) rotate(-90) scale(0.88,1)" font-size="12.94" letter-spacing="0.629">CD19 APC</text>
<text transform="translate(68.86,790.40) scale(0.88,1)" font-size="12.50" letter-spacing="0.968">Intracellular IgG PE</text>
<text transform="translate(41.65,586.00) scale(0.84,1)" font-size="12.06" letter-spacing="1.202">96.93%</text>
<text transform="translate(187.26,586.00) scale(0.84,1)" font-size="12.06" letter-spacing="0.795">1.67%</text>
<text transform="translate(43.46,747.60) scale(0.84,1)" font-size="12.06" letter-spacing="1.063">1.40%</text>
<text transform="translate(185.40,747.60) scale(0.84,1)" font-size="12.06" letter-spacing="1.201">0.00%</text>
<g transform="rotate(0 321.0 756.8)">
<line x1="321.00" y1="575.10" x2="321.00" y2="757.50" stroke-width="1.4"/>
<line x1="320.30" y1="756.80" x2="502.60" y2="756.80" stroke-width="1.4"/>
<line x1="318.20" y1="575.10" x2="323.60" y2="575.10" stroke-width="1.3"/>
<line x1="502.60" y1="754.60" x2="502.60" y2="760.20" stroke-width="1.5"/>
<line x1="318.50" y1="743.13" x2="321.00" y2="743.13" stroke-width="1.0"/>
<line x1="318.50" y1="735.13" x2="321.00" y2="735.13" stroke-width="1.0"/>
<line x1="318.50" y1="729.45" x2="321.00" y2="729.45" stroke-width="1.0"/>
<line x1="318.50" y1="725.05" x2="321.00" y2="725.05" stroke-width="1.0"/>
<line x1="318.50" y1="721.45" x2="321.00" y2="721.45" stroke-width="1.0"/>
<line x1="318.50" y1="718.41" x2="321.00" y2="718.41" stroke-width="1.0"/>
<line x1="318.50" y1="715.78" x2="321.00" y2="715.78" stroke-width="1.0"/>
<line x1="318.50" y1="713.45" x2="321.00" y2="713.45" stroke-width="1.0"/>
<line x1="318.10" y1="711.38" x2="323.50" y2="711.38" stroke-width="1.2"/>
<line x1="318.50" y1="697.70" x2="321.00" y2="697.70" stroke-width="1.0"/>
<line x1="318.50" y1="689.70" x2="321.00" y2="689.70" stroke-width="1.0"/>
<line x1="318.50" y1="684.03" x2="321.00" y2="684.03" stroke-width="1.0"/>
<line x1="318.50" y1="679.62" x2="321.00" y2="679.62" stroke-width="1.0"/>
<line x1="318.50" y1="676.03" x2="321.00" y2="676.03" stroke-width="1.0"/>
<line x1="318.50" y1="672.99" x2="321.00" y2="672.99" stroke-width="1.0"/>
<line x1="318.50" y1="670.35" x2="321.00" y2="670.35" stroke-width="1.0"/>
<line x1="318.50" y1="668.03" x2="321.00" y2="668.03" stroke-width="1.0"/>
<line x1="318.10" y1="665.95" x2="323.50" y2="665.95" stroke-width="1.2"/>
<line x1="318.50" y1="652.28" x2="321.00" y2="652.28" stroke-width="1.0"/>
<line x1="318.50" y1="644.28" x2="321.00" y2="644.28" stroke-width="1.0"/>
<line x1="318.50" y1="638.60" x2="321.00" y2="638.60" stroke-width="1.0"/>
<line x1="318.50" y1="634.20" x2="321.00" y2="634.20" stroke-width="1.0"/>
<line x1="318.50" y1="630.60" x2="321.00" y2="630.60" stroke-width="1.0"/>
<line x1="318.50" y1="627.56" x2="321.00" y2="627.56" stroke-width="1.0"/>
<line x1="318.50" y1="624.93" x2="321.00" y2="624.93" stroke-width="1.0"/>
<line x1="318.50" y1="622.60" x2="321.00" y2="622.60" stroke-width="1.0"/>
<line x1="318.10" y1="620.52" x2="323.50" y2="620.52" stroke-width="1.2"/>
<line x1="318.50" y1="606.85" x2="321.00" y2="606.85" stroke-width="1.0"/>
<line x1="318.50" y1="598.85" x2="321.00" y2="598.85" stroke-width="1.0"/>
<line x1="318.50" y1="593.18" x2="321.00" y2="593.18" stroke-width="1.0"/>
<line x1="318.50" y1="588.77" x2="321.00" y2="588.77" stroke-width="1.0"/>
<line x1="318.50" y1="585.18" x2="321.00" y2="585.18" stroke-width="1.0"/>
<line x1="318.50" y1="582.14" x2="321.00" y2="582.14" stroke-width="1.0"/>
<line x1="318.50" y1="579.50" x2="321.00" y2="579.50" stroke-width="1.0"/>
<line x1="318.50" y1="577.18" x2="321.00" y2="577.18" stroke-width="1.0"/>
<line x1="334.67" y1="756.80" x2="334.67" y2="759.20" stroke-width="1.0"/>
<line x1="342.66" y1="756.80" x2="342.66" y2="759.20" stroke-width="1.0"/>
<line x1="348.33" y1="756.80" x2="348.33" y2="759.20" stroke-width="1.0"/>
<line x1="352.73" y1="756.80" x2="352.73" y2="759.20" stroke-width="1.0"/>
<line x1="356.33" y1="756.80" x2="356.33" y2="759.20" stroke-width="1.0"/>
<line x1="359.37" y1="756.80" x2="359.37" y2="759.20" stroke-width="1.0"/>
<line x1="362.00" y1="756.80" x2="362.00" y2="759.20" stroke-width="1.0"/>
<line x1="364.32" y1="756.80" x2="364.32" y2="759.20" stroke-width="1.0"/>
<line x1="366.40" y1="754.60" x2="366.40" y2="760.10" stroke-width="1.3"/>
<line x1="380.07" y1="756.80" x2="380.07" y2="759.20" stroke-width="1.0"/>
<line x1="388.06" y1="756.80" x2="388.06" y2="759.20" stroke-width="1.0"/>
<line x1="393.73" y1="756.80" x2="393.73" y2="759.20" stroke-width="1.0"/>
<line x1="398.13" y1="756.80" x2="398.13" y2="759.20" stroke-width="1.0"/>
<line x1="401.73" y1="756.80" x2="401.73" y2="759.20" stroke-width="1.0"/>
<line x1="404.77" y1="756.80" x2="404.77" y2="759.20" stroke-width="1.0"/>
<line x1="407.40" y1="756.80" x2="407.40" y2="759.20" stroke-width="1.0"/>
<line x1="409.72" y1="756.80" x2="409.72" y2="759.20" stroke-width="1.0"/>
<line x1="411.80" y1="754.60" x2="411.80" y2="760.10" stroke-width="1.3"/>
<line x1="425.47" y1="756.80" x2="425.47" y2="759.20" stroke-width="1.0"/>
<line x1="433.46" y1="756.80" x2="433.46" y2="759.20" stroke-width="1.0"/>
<line x1="439.13" y1="756.80" x2="439.13" y2="759.20" stroke-width="1.0"/>
<line x1="443.53" y1="756.80" x2="443.53" y2="759.20" stroke-width="1.0"/>
<line x1="447.13" y1="756.80" x2="447.13" y2="759.20" stroke-width="1.0"/>
<line x1="450.17" y1="756.80" x2="450.17" y2="759.20" stroke-width="1.0"/>
<line x1="452.80" y1="756.80" x2="452.80" y2="759.20" stroke-width="1.0"/>
<line x1="455.12" y1="756.80" x2="455.12" y2="759.20" stroke-width="1.0"/>
<line x1="457.20" y1="754.60" x2="457.20" y2="760.10" stroke-width="1.3"/>
<line x1="470.87" y1="756.80" x2="470.87" y2="759.20" stroke-width="1.0"/>
<line x1="478.86" y1="756.80" x2="478.86" y2="759.20" stroke-width="1.0"/>
<line x1="484.53" y1="756.80" x2="484.53" y2="759.20" stroke-width="1.0"/>
<line x1="488.93" y1="756.80" x2="488.93" y2="759.20" stroke-width="1.0"/>
<line x1="492.53" y1="756.80" x2="492.53" y2="759.20" stroke-width="1.0"/>
<line x1="495.57" y1="756.80" x2="495.57" y2="759.20" stroke-width="1.0"/>
<line x1="498.20" y1="756.80" x2="498.20" y2="759.20" stroke-width="1.0"/>
<line x1="500.52" y1="756.80" x2="500.52" y2="759.20" stroke-width="1.0"/>
<line x1="365.40" y1="575.10" x2="365.40" y2="756.80" stroke-width="1.3"/>
<line x1="321.00" y1="712.30" x2="503.20" y2="712.30" stroke-width="1.3"/>
</g>
<text transform="translate(283.29,560.40) scale(0.9478199675039066,1)" font-size="27.04" letter-spacing="0.000">F</text>
<text transform="translate(296.85,715.67) scale(0.84,1)" font-size="12.21" letter-spacing="0.189">10</text>
<text transform="translate(309.76,710.97) scale(1.0,1)" font-size="10.17" letter-spacing="0.000">1</text>
<text transform="translate(296.85,670.25) scale(0.84,1)" font-size="12.21" letter-spacing="0.189">10</text>
<text transform="translate(310.05,665.55) scale(1.0,1)" font-size="10.17" letter-spacing="0.000">2</text>
<text transform="translate(296.85,624.82) scale(0.84,1)" font-size="12.21" letter-spacing="0.189">10</text>
<text transform="translate(310.17,620.12) scale(1.0,1)" font-size="10.17" letter-spacing="0.000">3</text>
<text transform="translate(296.85,580.90) scale(0.84,1)" font-size="12.21" letter-spacing="0.189">10</text>
<text transform="translate(310.25,576.20) scale(1.0,1)" font-size="10.17" letter-spacing="0.000">4</text>
<text transform="translate(314.12,773.90) scale(0.84,1)" font-size="12.94" letter-spacing="-0.067">10</text>
<text transform="translate(327.20,769.50) scale(1.0,1)" font-size="10.17" letter-spacing="0.000">0</text>
<text transform="translate(359.52,773.90) scale(0.84,1)" font-size="12.94" letter-spacing="-0.067">10</text>
<text transform="translate(372.36,769.50) scale(1.0,1)" font-size="10.17" letter-spacing="0.000">1</text>
<text transform="translate(404.92,773.90) scale(0.84,1)" font-size="12.94" letter-spacing="-0.067">10</text>
<text transform="translate(418.05,769.50) scale(1.0,1)" font-size="10.17" letter-spacing="0.000">2</text>
<text transform="translate(450.32,773.90) scale(0.84,1)" font-size="12.94" letter-spacing="-0.067">10</text>
<text transform="translate(463.57,769.50) scale(1.0,1)" font-size="10.17" letter-spacing="0.000">3</text>
<text transform="translate(495.72,773.90) scale(0.84,1)" font-size="12.94" letter-spacing="-0.067">10</text>
<text transform="translate(509.05,769.50) scale(1.0,1)" font-size="10.17" letter-spacing="0.000">4</text>
<text transform="translate(293.70,694.27) rotate(-90) scale(0.88,1)" font-size="12.94" letter-spacing="0.597">CD19 APC</text>
<text transform="translate(351.06,790.40) scale(0.88,1)" font-size="12.50" letter-spacing="0.998">Intracellular IgG PE</text>
<text transform="translate(324.08,587.00) scale(0.84,1)" font-size="12.06" letter-spacing="1.147">82.03%</text>
<text transform="translate(463.46,587.00) scale(0.84,1)" font-size="12.06" letter-spacing="1.032">14.17%</text>
<text transform="translate(324.87,748.10) scale(0.84,1)" font-size="12.06" letter-spacing="1.240">3.46%</text>
<text transform="translate(468.30,748.30) scale(0.84,1)" font-size="12.06" letter-spacing="1.349">0.34%</text>
</svg></body></html>
